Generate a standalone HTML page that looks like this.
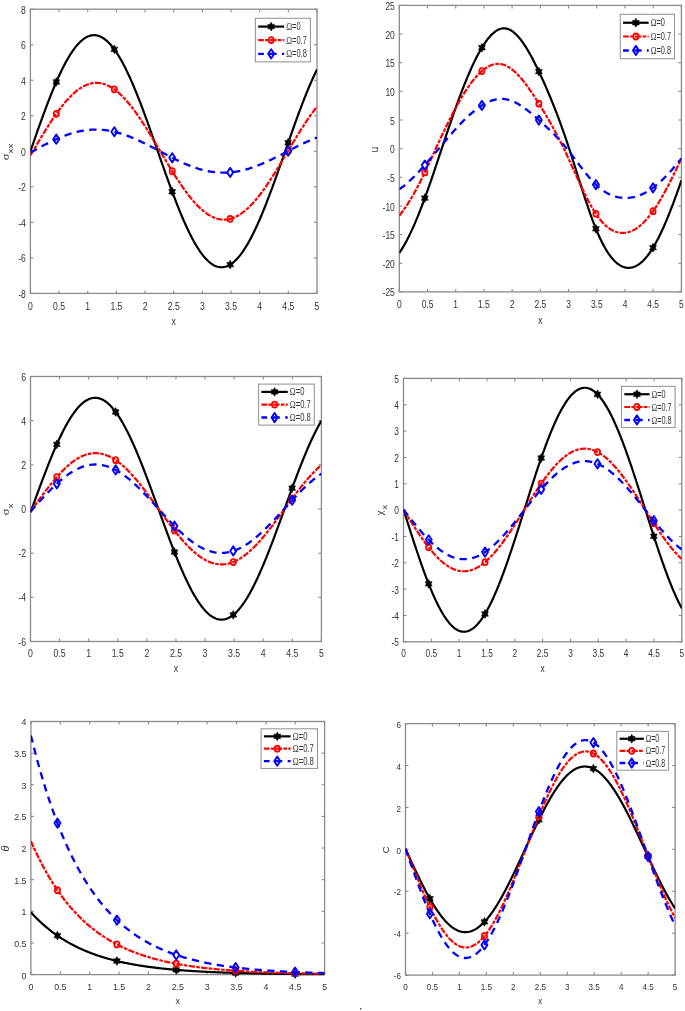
<!DOCTYPE html><html><head><meta charset="utf-8"><style>html,body{margin:0;padding:0;background:#fff;}svg{display:block;}text{font-family:"Liberation Sans",sans-serif;}.t{filter:grayscale(1);}</style></head><body>
<div id="w"><svg width="685" height="1011" viewBox="0 0 685 1011">
<rect width="685" height="1011" fill="#fff"/>
<clipPath id="cp1"><rect x="30.40" y="6.20" width="286.60" height="290.20"/></clipPath>
<g stroke="#8a8a8a" stroke-width="1.1"><rect x="30.40" y="9.20" width="286.60" height="284.20" fill="none" stroke="#8a8a8a" stroke-width="1.3"/><line x1="30.40" y1="293.40" x2="30.40" y2="290.40"/><line x1="30.40" y1="9.20" x2="30.40" y2="12.20"/><line x1="59.06" y1="293.40" x2="59.06" y2="290.40"/><line x1="59.06" y1="9.20" x2="59.06" y2="12.20"/><line x1="87.72" y1="293.40" x2="87.72" y2="290.40"/><line x1="87.72" y1="9.20" x2="87.72" y2="12.20"/><line x1="116.38" y1="293.40" x2="116.38" y2="290.40"/><line x1="116.38" y1="9.20" x2="116.38" y2="12.20"/><line x1="145.04" y1="293.40" x2="145.04" y2="290.40"/><line x1="145.04" y1="9.20" x2="145.04" y2="12.20"/><line x1="173.70" y1="293.40" x2="173.70" y2="290.40"/><line x1="173.70" y1="9.20" x2="173.70" y2="12.20"/><line x1="202.36" y1="293.40" x2="202.36" y2="290.40"/><line x1="202.36" y1="9.20" x2="202.36" y2="12.20"/><line x1="231.02" y1="293.40" x2="231.02" y2="290.40"/><line x1="231.02" y1="9.20" x2="231.02" y2="12.20"/><line x1="259.68" y1="293.40" x2="259.68" y2="290.40"/><line x1="259.68" y1="9.20" x2="259.68" y2="12.20"/><line x1="288.34" y1="293.40" x2="288.34" y2="290.40"/><line x1="288.34" y1="9.20" x2="288.34" y2="12.20"/><line x1="317.00" y1="293.40" x2="317.00" y2="290.40"/><line x1="317.00" y1="9.20" x2="317.00" y2="12.20"/><line x1="30.40" y1="293.40" x2="33.40" y2="293.40"/><line x1="317.00" y1="293.40" x2="314.00" y2="293.40"/><line x1="30.40" y1="257.88" x2="33.40" y2="257.88"/><line x1="317.00" y1="257.88" x2="314.00" y2="257.88"/><line x1="30.40" y1="222.35" x2="33.40" y2="222.35"/><line x1="317.00" y1="222.35" x2="314.00" y2="222.35"/><line x1="30.40" y1="186.82" x2="33.40" y2="186.82"/><line x1="317.00" y1="186.82" x2="314.00" y2="186.82"/><line x1="30.40" y1="151.30" x2="33.40" y2="151.30"/><line x1="317.00" y1="151.30" x2="314.00" y2="151.30"/><line x1="30.40" y1="115.77" x2="33.40" y2="115.77"/><line x1="317.00" y1="115.77" x2="314.00" y2="115.77"/><line x1="30.40" y1="80.25" x2="33.40" y2="80.25"/><line x1="317.00" y1="80.25" x2="314.00" y2="80.25"/><line x1="30.40" y1="44.72" x2="33.40" y2="44.72"/><line x1="317.00" y1="44.72" x2="314.00" y2="44.72"/><line x1="30.40" y1="9.20" x2="33.40" y2="9.20"/><line x1="317.00" y1="9.20" x2="314.00" y2="9.20"/></g>
<g class="t" font-size="10.5" fill="#333333"><text transform="translate(30.40 309.86) scale(0.820 1.000)" text-anchor="middle">0</text><text transform="translate(59.06 309.86) scale(0.820 1.000)" text-anchor="middle">0.5</text><text transform="translate(87.72 309.86) scale(0.820 1.000)" text-anchor="middle">1</text><text transform="translate(116.38 309.86) scale(0.820 1.000)" text-anchor="middle">1.5</text><text transform="translate(145.04 309.86) scale(0.820 1.000)" text-anchor="middle">2</text><text transform="translate(173.70 309.86) scale(0.820 1.000)" text-anchor="middle">2.5</text><text transform="translate(202.36 309.86) scale(0.820 1.000)" text-anchor="middle">3</text><text transform="translate(231.02 309.86) scale(0.820 1.000)" text-anchor="middle">3.5</text><text transform="translate(259.68 309.86) scale(0.820 1.000)" text-anchor="middle">4</text><text transform="translate(288.34 309.86) scale(0.820 1.000)" text-anchor="middle">4.5</text><text transform="translate(317.00 309.86) scale(0.820 1.000)" text-anchor="middle">5</text><text transform="translate(25.90 297.96) scale(0.820 1.000)" text-anchor="end">-8</text><text transform="translate(25.90 262.44) scale(0.820 1.000)" text-anchor="end">-6</text><text transform="translate(25.90 226.91) scale(0.820 1.000)" text-anchor="end">-4</text><text transform="translate(25.90 191.38) scale(0.820 1.000)" text-anchor="end">-2</text><text transform="translate(25.90 155.86) scale(0.820 1.000)" text-anchor="end">0</text><text transform="translate(25.90 120.33) scale(0.820 1.000)" text-anchor="end">2</text><text transform="translate(25.90 84.81) scale(0.820 1.000)" text-anchor="end">4</text><text transform="translate(25.90 49.28) scale(0.820 1.000)" text-anchor="end">6</text><text transform="translate(25.90 13.76) scale(0.820 1.000)" text-anchor="end">8</text><text transform="translate(173.70 325.20) scale(0.820 1.000)" text-anchor="middle">x</text></g>
<path d="M30.40,151.25 L31.36,148.51 L32.31,145.78 L33.27,143.04 L34.22,140.31 L35.18,137.59 L36.13,134.88 L37.09,132.17 L38.04,129.48 L39.00,126.80 L39.95,124.13 L40.91,121.47 L41.86,118.84 L42.82,116.22 L43.77,113.62 L44.73,111.04 L45.69,108.48 L46.64,105.95 L47.60,103.44 L48.55,100.96 L49.51,98.51 L50.46,96.09 L51.42,93.69 L52.37,91.33 L53.33,89.01 L54.28,86.71 L55.24,84.46 L56.19,82.24 L57.15,80.06 L58.10,77.91 L59.06,75.81 L60.02,73.75 L60.97,71.74 L61.93,69.77 L62.88,67.84 L63.84,65.96 L64.79,64.13 L65.75,62.34 L66.70,60.61 L67.66,58.93 L68.61,57.29 L69.57,55.71 L70.52,54.18 L71.48,52.71 L72.43,51.29 L73.39,49.93 L74.35,48.62 L75.30,47.37 L76.26,46.18 L77.21,45.04 L78.17,43.97 L79.12,42.95 L80.08,42.00 L81.03,41.10 L81.99,40.27 L82.94,39.50 L83.90,38.79 L84.85,38.14 L85.81,37.55 L86.76,37.03 L87.72,36.58 L88.68,36.18 L89.63,35.85 L90.59,35.58 L91.54,35.38 L92.50,35.24 L93.45,35.17 L94.41,35.16 L95.36,35.22 L96.32,35.34 L97.27,35.52 L98.23,35.77 L99.18,36.08 L100.14,36.46 L101.09,36.90 L102.05,37.40 L103.01,37.97 L103.96,38.60 L104.92,39.29 L105.87,40.04 L106.83,40.86 L107.78,41.74 L108.74,42.68 L109.69,43.67 L110.65,44.73 L111.60,45.85 L112.56,47.03 L113.51,48.26 L114.47,49.55 L115.42,50.90 L116.38,52.30 L117.34,53.76 L118.29,55.27 L119.25,56.83 L120.20,58.45 L121.16,60.12 L122.11,61.84 L123.07,63.61 L124.02,65.43 L124.98,67.29 L125.93,69.20 L126.89,71.16 L127.84,73.16 L128.80,75.21 L129.75,77.30 L130.71,79.42 L131.67,81.59 L132.62,83.80 L133.58,86.04 L134.53,88.32 L135.49,90.64 L136.44,92.99 L137.40,95.37 L138.35,97.78 L139.31,100.22 L140.26,102.69 L141.22,105.19 L142.17,107.71 L143.13,110.26 L144.08,112.83 L145.04,115.42 L146.00,118.03 L146.95,120.66 L147.91,123.30 L148.86,125.97 L149.82,128.64 L150.77,131.33 L151.73,134.03 L152.68,136.74 L153.64,139.45 L154.59,142.18 L155.55,144.90 L156.50,147.63 L157.46,150.37 L158.41,153.10 L159.37,155.83 L160.33,158.56 L161.28,161.29 L162.24,164.01 L163.19,166.72 L164.15,169.43 L165.10,172.12 L166.06,174.81 L167.01,177.48 L167.97,180.13 L168.92,182.77 L169.88,185.39 L170.83,188.00 L171.79,190.58 L172.74,193.14 L173.70,195.68 L174.66,198.19 L175.61,200.67 L176.57,203.13 L177.52,205.56 L178.48,207.96 L179.43,210.33 L180.39,212.67 L181.34,214.97 L182.30,217.23 L183.25,219.46 L184.21,221.66 L185.16,223.81 L186.12,225.92 L187.07,227.99 L188.03,230.02 L188.99,232.00 L189.94,233.94 L190.90,235.84 L191.85,237.68 L192.81,239.48 L193.76,241.23 L194.72,242.93 L195.67,244.58 L196.63,246.18 L197.58,247.72 L198.54,249.21 L199.49,250.65 L200.45,252.03 L201.40,253.35 L202.36,254.62 L203.32,255.83 L204.27,256.99 L205.23,258.08 L206.18,259.12 L207.14,260.09 L208.09,261.01 L209.05,261.86 L210.00,262.66 L210.96,263.39 L211.91,264.05 L212.87,264.66 L213.82,265.20 L214.78,265.68 L215.73,266.10 L216.69,266.45 L217.65,266.74 L218.60,266.97 L219.56,267.13 L220.51,267.22 L221.47,267.26 L222.42,267.22 L223.38,267.13 L224.33,266.97 L225.29,266.74 L226.24,266.45 L227.20,266.10 L228.15,265.68 L229.11,265.20 L230.06,264.66 L231.02,264.05 L231.98,263.38 L232.93,262.65 L233.89,261.86 L234.84,261.00 L235.80,260.09 L236.75,259.11 L237.71,258.08 L238.66,256.98 L239.62,255.83 L240.57,254.62 L241.53,253.35 L242.48,252.02 L243.44,250.64 L244.39,249.21 L245.35,247.72 L246.31,246.17 L247.26,244.58 L248.22,242.93 L249.17,241.23 L250.13,239.48 L251.08,237.68 L252.04,235.84 L252.99,233.94 L253.95,232.01 L254.90,230.02 L255.86,228.00 L256.81,225.93 L257.77,223.82 L258.72,221.67 L259.68,219.48 L260.64,217.25 L261.59,214.98 L262.55,212.68 L263.50,210.35 L264.46,207.98 L265.41,205.59 L266.37,203.16 L267.32,200.70 L268.28,198.22 L269.23,195.71 L270.19,193.18 L271.14,190.62 L272.10,188.04 L273.05,185.44 L274.01,182.82 L274.97,180.18 L275.92,177.53 L276.88,174.87 L277.83,172.19 L278.79,169.50 L279.74,166.79 L280.70,164.09 L281.65,161.37 L282.61,158.65 L283.56,155.92 L284.52,153.19 L285.47,150.46 L286.43,147.73 L287.38,145.01 L288.34,142.28 L289.30,139.56 L290.25,136.85 L291.21,134.15 L292.16,131.45 L293.12,128.77 L294.07,126.10 L295.03,123.44 L295.98,120.80 L296.94,118.18 L297.89,115.57 L298.85,112.99 L299.80,110.42 L300.76,107.88 L301.71,105.36 L302.67,102.87 L303.63,100.41 L304.58,97.97 L305.54,95.56 L306.49,93.19 L307.45,90.84 L308.40,88.53 L309.36,86.26 L310.31,84.02 L311.27,81.82 L312.22,79.65 L313.18,77.53 L314.13,75.45 L315.09,73.41 L316.04,71.41 L317.00,69.46" fill="none" stroke="#000" stroke-width="2.2" stroke-linejoin="round" clip-path="url(#cp1)"/>
<polygon points="56.31,77.57 55.17,79.77 52.88,79.77 54.02,81.97 52.88,84.17 55.17,84.17 56.31,86.37 57.45,84.17 59.74,84.17 58.59,81.97 59.74,79.77 57.45,79.77" fill="#000" stroke="#000" stroke-width="0.6" stroke-linejoin="round"/>
<polygon points="114.32,44.94 113.17,47.14 110.89,47.14 112.03,49.34 110.89,51.54 113.17,51.54 114.32,53.74 115.46,51.54 117.75,51.54 116.60,49.34 117.75,47.14 115.46,47.14" fill="#000" stroke="#000" stroke-width="0.6" stroke-linejoin="round"/>
<polygon points="172.21,187.31 171.07,189.51 168.78,189.51 169.92,191.71 168.78,193.91 171.07,193.91 172.21,196.11 173.35,193.91 175.64,193.91 174.49,191.71 175.64,189.51 173.35,189.51" fill="#000" stroke="#000" stroke-width="0.6" stroke-linejoin="round"/>
<polygon points="230.16,260.20 229.02,262.40 226.73,262.40 227.88,264.60 226.73,266.80 229.02,266.80 230.16,269.00 231.30,266.80 233.59,266.80 232.45,264.60 233.59,262.40 231.30,262.40" fill="#000" stroke="#000" stroke-width="0.6" stroke-linejoin="round"/>
<polygon points="288.17,138.37 287.03,140.57 284.74,140.57 285.88,142.77 284.74,144.97 287.03,144.97 288.17,147.17 289.31,144.97 291.60,144.97 290.45,142.77 291.60,140.57 289.31,140.57" fill="#000" stroke="#000" stroke-width="0.6" stroke-linejoin="round"/>
<path d="M30.40,155.41 L31.36,153.79 L32.31,152.18 L33.27,150.56 L34.22,148.95 L35.18,147.33 L36.13,145.72 L37.09,144.11 L38.04,142.51 L39.00,140.91 L39.95,139.32 L40.91,137.73 L41.86,136.15 L42.82,134.58 L43.77,133.02 L44.73,131.47 L45.69,129.93 L46.64,128.40 L47.60,126.89 L48.55,125.39 L49.51,123.90 L50.46,122.43 L51.42,120.97 L52.37,119.53 L53.33,118.11 L54.28,116.71 L55.24,115.33 L56.19,113.97 L57.15,112.62 L58.10,111.30 L59.06,110.01 L60.02,108.73 L60.97,107.48 L61.93,106.25 L62.88,105.05 L63.84,103.87 L64.79,102.72 L65.75,101.60 L66.70,100.50 L67.66,99.44 L68.61,98.40 L69.57,97.39 L70.52,96.41 L71.48,95.46 L72.43,94.55 L73.39,93.66 L74.35,92.81 L75.30,91.99 L76.26,91.20 L77.21,90.44 L78.17,89.72 L79.12,89.03 L80.08,88.38 L81.03,87.76 L81.99,87.18 L82.94,86.64 L83.90,86.12 L84.85,85.65 L85.81,85.21 L86.76,84.81 L87.72,84.45 L88.68,84.12 L89.63,83.83 L90.59,83.58 L91.54,83.36 L92.50,83.18 L93.45,83.04 L94.41,82.94 L95.36,82.88 L96.32,82.85 L97.27,82.86 L98.23,82.91 L99.18,83.00 L100.14,83.13 L101.09,83.29 L102.05,83.49 L103.01,83.73 L103.96,84.01 L104.92,84.32 L105.87,84.67 L106.83,85.06 L107.78,85.48 L108.74,85.94 L109.69,86.44 L110.65,86.97 L111.60,87.54 L112.56,88.15 L113.51,88.78 L114.47,89.46 L115.42,90.17 L116.38,90.91 L117.34,91.68 L118.29,92.49 L119.25,93.33 L120.20,94.20 L121.16,95.11 L122.11,96.04 L123.07,97.01 L124.02,98.01 L124.98,99.03 L125.93,100.09 L126.89,101.17 L127.84,102.28 L128.80,103.42 L129.75,104.58 L130.71,105.77 L131.67,106.99 L132.62,108.23 L133.58,109.49 L134.53,110.78 L135.49,112.09 L136.44,113.42 L137.40,114.77 L138.35,116.14 L139.31,117.53 L140.26,118.94 L141.22,120.37 L142.17,121.82 L143.13,123.28 L144.08,124.76 L145.04,126.25 L146.00,127.75 L146.95,129.27 L147.91,130.80 L148.86,132.34 L149.82,133.90 L150.77,135.46 L151.73,137.03 L152.68,138.61 L153.64,140.19 L154.59,141.78 L155.55,143.38 L156.50,144.98 L157.46,146.59 L158.41,148.19 L159.37,149.80 L160.33,151.41 L161.28,153.02 L162.24,154.63 L163.19,156.24 L164.15,157.84 L165.10,159.44 L166.06,161.04 L167.01,162.63 L167.97,164.21 L168.92,165.79 L169.88,167.36 L170.83,168.92 L171.79,170.47 L172.74,172.01 L173.70,173.53 L174.66,175.05 L175.61,176.55 L176.57,178.04 L177.52,179.51 L178.48,180.97 L179.43,182.41 L180.39,183.84 L181.34,185.24 L182.30,186.63 L183.25,188.00 L184.21,189.34 L185.16,190.67 L186.12,191.97 L187.07,193.25 L188.03,194.51 L188.99,195.75 L189.94,196.96 L190.90,198.14 L191.85,199.30 L192.81,200.43 L193.76,201.54 L194.72,202.61 L195.67,203.66 L196.63,204.68 L197.58,205.67 L198.54,206.63 L199.49,207.56 L200.45,208.46 L201.40,209.32 L202.36,210.16 L203.32,210.96 L204.27,211.73 L205.23,212.46 L206.18,213.16 L207.14,213.83 L208.09,214.46 L209.05,215.06 L210.00,215.62 L210.96,216.15 L211.91,216.64 L212.87,217.09 L213.82,217.51 L214.78,217.89 L215.73,218.23 L216.69,218.54 L217.65,218.81 L218.60,219.04 L219.56,219.24 L220.51,219.40 L221.47,219.52 L222.42,219.60 L223.38,219.64 L224.33,219.65 L225.29,219.62 L226.24,219.55 L227.20,219.44 L228.15,219.30 L229.11,219.12 L230.06,218.90 L231.02,218.64 L231.98,218.35 L232.93,218.01 L233.89,217.65 L234.84,217.24 L235.80,216.80 L236.75,216.32 L237.71,215.81 L238.66,215.26 L239.62,214.68 L240.57,214.06 L241.53,213.40 L242.48,212.71 L243.44,211.99 L244.39,211.24 L245.35,210.45 L246.31,209.62 L247.26,208.77 L248.22,207.89 L249.17,206.97 L250.13,206.02 L251.08,205.04 L252.04,204.04 L252.99,203.00 L253.95,201.93 L254.90,200.84 L255.86,199.72 L256.81,198.57 L257.77,197.40 L258.72,196.20 L259.68,194.98 L260.64,193.73 L261.59,192.46 L262.55,191.17 L263.50,189.85 L264.46,188.52 L265.41,187.16 L266.37,185.78 L267.32,184.39 L268.28,182.97 L269.23,181.54 L270.19,180.09 L271.14,178.63 L272.10,177.15 L273.05,175.66 L274.01,174.15 L274.97,172.63 L275.92,171.10 L276.88,169.56 L277.83,168.01 L278.79,166.45 L279.74,164.88 L280.70,163.30 L281.65,161.72 L282.61,160.13 L283.56,158.54 L284.52,156.94 L285.47,155.34 L286.43,153.74 L287.38,152.14 L288.34,150.53 L289.30,148.93 L290.25,147.33 L291.21,145.73 L292.16,144.13 L293.12,142.54 L294.07,140.95 L295.03,139.37 L295.98,137.80 L296.94,136.23 L297.89,134.67 L298.85,133.12 L299.80,131.59 L300.76,130.06 L301.71,128.54 L302.67,127.04 L303.63,125.55 L304.58,124.08 L305.54,122.62 L306.49,121.17 L307.45,119.74 L308.40,118.34 L309.36,116.94 L310.31,115.57 L311.27,114.22 L312.22,112.89 L313.18,111.58 L314.13,110.29 L315.09,109.03 L316.04,107.79 L317.00,106.57" fill="none" stroke="#f00" stroke-width="2.2" stroke-dasharray="6.3 1.3 3.6 1.3" stroke-linejoin="round" clip-path="url(#cp1)"/>
<ellipse cx="56.31" cy="113.80" rx="2.60" ry="3.00" fill="none" stroke="#f00" stroke-width="1.8"/>
<ellipse cx="114.32" cy="89.35" rx="2.60" ry="3.00" fill="none" stroke="#f00" stroke-width="1.8"/>
<ellipse cx="172.21" cy="171.15" rx="2.60" ry="3.00" fill="none" stroke="#f00" stroke-width="1.8"/>
<ellipse cx="230.16" cy="218.87" rx="2.60" ry="3.00" fill="none" stroke="#f00" stroke-width="1.8"/>
<ellipse cx="288.17" cy="150.82" rx="2.60" ry="3.00" fill="none" stroke="#f00" stroke-width="1.8"/>
<path d="M30.40,152.54 L31.36,152.02 L32.31,151.50 L33.27,150.98 L34.22,150.46 L35.18,149.94 L36.13,149.42 L37.09,148.90 L38.04,148.39 L39.00,147.87 L39.95,147.36 L40.91,146.85 L41.86,146.34 L42.82,145.84 L43.77,145.34 L44.73,144.84 L45.69,144.35 L46.64,143.86 L47.60,143.37 L48.55,142.89 L49.51,142.42 L50.46,141.95 L51.42,141.49 L52.37,141.03 L53.33,140.57 L54.28,140.13 L55.24,139.69 L56.19,139.25 L57.15,138.83 L58.10,138.41 L59.06,137.99 L60.02,137.59 L60.97,137.19 L61.93,136.80 L62.88,136.42 L63.84,136.05 L64.79,135.69 L65.75,135.33 L66.70,134.99 L67.66,134.65 L68.61,134.32 L69.57,134.01 L70.52,133.70 L71.48,133.40 L72.43,133.11 L73.39,132.84 L74.35,132.57 L75.30,132.31 L76.26,132.07 L77.21,131.83 L78.17,131.61 L79.12,131.39 L80.08,131.19 L81.03,131.00 L81.99,130.82 L82.94,130.66 L83.90,130.50 L84.85,130.35 L85.81,130.22 L86.76,130.10 L87.72,129.99 L88.68,129.89 L89.63,129.81 L90.59,129.74 L91.54,129.67 L92.50,129.63 L93.45,129.59 L94.41,129.56 L95.36,129.55 L96.32,129.55 L97.27,129.56 L98.23,129.58 L99.18,129.62 L100.14,129.67 L101.09,129.73 L102.05,129.80 L103.01,129.88 L103.96,129.98 L104.92,130.08 L105.87,130.20 L106.83,130.33 L107.78,130.48 L108.74,130.63 L109.69,130.79 L110.65,130.97 L111.60,131.16 L112.56,131.36 L113.51,131.57 L114.47,131.79 L115.42,132.02 L116.38,132.26 L117.34,132.52 L118.29,132.78 L119.25,133.05 L120.20,133.34 L121.16,133.63 L122.11,133.93 L123.07,134.24 L124.02,134.57 L124.98,134.90 L125.93,135.24 L126.89,135.59 L127.84,135.94 L128.80,136.31 L129.75,136.69 L130.71,137.07 L131.67,137.46 L132.62,137.86 L133.58,138.26 L134.53,138.67 L135.49,139.09 L136.44,139.52 L137.40,139.95 L138.35,140.39 L139.31,140.83 L140.26,141.28 L141.22,141.74 L142.17,142.20 L143.13,142.66 L144.08,143.13 L145.04,143.61 L146.00,144.09 L146.95,144.57 L147.91,145.05 L148.86,145.54 L149.82,146.04 L150.77,146.53 L151.73,147.03 L152.68,147.53 L153.64,148.03 L154.59,148.53 L155.55,149.04 L156.50,149.54 L157.46,150.05 L158.41,150.56 L159.37,151.07 L160.33,151.57 L161.28,152.08 L162.24,152.59 L163.19,153.09 L164.15,153.60 L165.10,154.10 L166.06,154.60 L167.01,155.10 L167.97,155.60 L168.92,156.10 L169.88,156.59 L170.83,157.08 L171.79,157.56 L172.74,158.04 L173.70,158.52 L174.66,159.00 L175.61,159.47 L176.57,159.93 L177.52,160.39 L178.48,160.85 L179.43,161.30 L180.39,161.74 L181.34,162.18 L182.30,162.61 L183.25,163.04 L184.21,163.45 L185.16,163.87 L186.12,164.27 L187.07,164.67 L188.03,165.06 L188.99,165.44 L189.94,165.82 L190.90,166.18 L191.85,166.54 L192.81,166.89 L193.76,167.23 L194.72,167.56 L195.67,167.89 L196.63,168.20 L197.58,168.50 L198.54,168.80 L199.49,169.08 L200.45,169.36 L201.40,169.62 L202.36,169.88 L203.32,170.12 L204.27,170.35 L205.23,170.58 L206.18,170.79 L207.14,170.99 L208.09,171.18 L209.05,171.36 L210.00,171.53 L210.96,171.69 L211.91,171.83 L212.87,171.97 L213.82,172.09 L214.78,172.20 L215.73,172.30 L216.69,172.39 L217.65,172.47 L218.60,172.54 L219.56,172.59 L220.51,172.63 L221.47,172.66 L222.42,172.68 L223.38,172.68 L224.33,172.68 L225.29,172.66 L226.24,172.63 L227.20,172.59 L228.15,172.54 L229.11,172.48 L230.06,172.40 L231.02,172.31 L231.98,172.21 L232.93,172.10 L233.89,171.98 L234.84,171.85 L235.80,171.70 L236.75,171.55 L237.71,171.38 L238.66,171.20 L239.62,171.01 L240.57,170.82 L241.53,170.61 L242.48,170.38 L243.44,170.15 L244.39,169.91 L245.35,169.66 L246.31,169.40 L247.26,169.13 L248.22,168.85 L249.17,168.56 L250.13,168.26 L251.08,167.95 L252.04,167.63 L252.99,167.30 L253.95,166.96 L254.90,166.62 L255.86,166.27 L256.81,165.91 L257.77,165.54 L258.72,165.16 L259.68,164.78 L260.64,164.39 L261.59,163.99 L262.55,163.58 L263.50,163.17 L264.46,162.75 L265.41,162.33 L266.37,161.90 L267.32,161.46 L268.28,161.02 L269.23,160.58 L270.19,160.13 L271.14,159.67 L272.10,159.21 L273.05,158.75 L274.01,158.28 L274.97,157.81 L275.92,157.33 L276.88,156.85 L277.83,156.37 L278.79,155.89 L279.74,155.40 L280.70,154.92 L281.65,154.43 L282.61,153.93 L283.56,153.44 L284.52,152.95 L285.47,152.46 L286.43,151.96 L287.38,151.47 L288.34,150.97 L289.30,150.48 L290.25,149.98 L291.21,149.49 L292.16,149.00 L293.12,148.51 L294.07,148.02 L295.03,147.54 L295.98,147.06 L296.94,146.58 L297.89,146.10 L298.85,145.62 L299.80,145.15 L300.76,144.68 L301.71,144.22 L302.67,143.76 L303.63,143.31 L304.58,142.86 L305.54,142.41 L306.49,141.97 L307.45,141.53 L308.40,141.11 L309.36,140.68 L310.31,140.26 L311.27,139.85 L312.22,139.45 L313.18,139.05 L314.13,138.66 L315.09,138.28 L316.04,137.90 L317.00,137.53" fill="none" stroke="#00f" stroke-width="2.3" stroke-dasharray="7.3 5.4" stroke-linejoin="round" clip-path="url(#cp1)"/>
<polygon points="56.31,134.60 59.31,139.20 56.31,143.80 53.31,139.20" fill="none" stroke="#00f" stroke-width="1.9" stroke-linejoin="round"/>
<polygon points="114.32,127.15 117.32,131.75 114.32,136.35 111.32,131.75" fill="none" stroke="#00f" stroke-width="1.9" stroke-linejoin="round"/>
<polygon points="172.21,153.17 175.21,157.77 172.21,162.37 169.21,157.77" fill="none" stroke="#00f" stroke-width="1.9" stroke-linejoin="round"/>
<polygon points="230.16,167.79 233.16,172.39 230.16,176.99 227.16,172.39" fill="none" stroke="#00f" stroke-width="1.9" stroke-linejoin="round"/>
<polygon points="288.17,146.46 291.17,151.06 288.17,155.66 285.17,151.06" fill="none" stroke="#00f" stroke-width="1.9" stroke-linejoin="round"/>
<rect x="255.40" y="18.30" width="55.00" height="43.60" fill="#fff" stroke="#999" stroke-width="1.1"/>
<line x1="258.20" y1="26.58" x2="284.17" y2="26.58" stroke="#000" stroke-width="2.2"/>
<polygon points="271.18,22.18 270.04,24.39 267.75,24.38 268.90,26.58 267.75,28.78 270.04,28.78 271.18,30.98 272.32,28.78 274.61,28.78 273.47,26.58 274.61,24.38 272.32,24.39" fill="#000" stroke="#000" stroke-width="0.6" stroke-linejoin="round"/>
<text class="t" transform="translate(286.20 30.18) scale(0.750 1)" font-size="10" fill="#333333"><tspan font-family="Liberation Serif" font-size="10.5">&#937;</tspan>=0</text>
<line x1="258.20" y1="40.10" x2="284.17" y2="40.10" stroke="#f00" stroke-width="2.2" stroke-dasharray="6.3 1.3 3.6 1.3" stroke-dashoffset="0.6"/>
<ellipse cx="271.18" cy="40.10" rx="2.60" ry="3.00" fill="none" stroke="#f00" stroke-width="1.8"/>
<text class="t" transform="translate(286.20 43.70) scale(0.750 1)" font-size="10" fill="#333333"><tspan font-family="Liberation Serif" font-size="10.5">&#937;</tspan>=0.7</text>
<line x1="258.20" y1="53.83" x2="284.17" y2="53.83" stroke="#00f" stroke-width="2.3" stroke-dasharray="7.3 5.4" stroke-dashoffset="1.6"/>
<polygon points="271.18,49.23 274.18,53.83 271.18,58.43 268.18,53.83" fill="none" stroke="#00f" stroke-width="1.9" stroke-linejoin="round"/>
<text class="t" transform="translate(286.20 57.43) scale(0.750 1)" font-size="10" fill="#333333"><tspan font-family="Liberation Serif" font-size="10.5">&#937;</tspan>=0.8</text>
<g transform="translate(9.0 151.8) rotate(-90) scale(1.12 0.9)" class="t" fill="#333333"><text text-anchor="middle" font-size="10.5"><tspan font-family="Liberation Serif" font-size="11">&#963;</tspan><tspan font-size="9" dy="4.6">xx</tspan></text></g>
<clipPath id="cp2"><rect x="399.30" y="2.40" width="282.10" height="292.50"/></clipPath>
<g stroke="#8a8a8a" stroke-width="1.1"><rect x="399.30" y="5.40" width="282.10" height="286.50" fill="none" stroke="#8a8a8a" stroke-width="1.3"/><line x1="399.30" y1="291.90" x2="399.30" y2="288.90"/><line x1="399.30" y1="5.40" x2="399.30" y2="8.40"/><line x1="427.51" y1="291.90" x2="427.51" y2="288.90"/><line x1="427.51" y1="5.40" x2="427.51" y2="8.40"/><line x1="455.72" y1="291.90" x2="455.72" y2="288.90"/><line x1="455.72" y1="5.40" x2="455.72" y2="8.40"/><line x1="483.93" y1="291.90" x2="483.93" y2="288.90"/><line x1="483.93" y1="5.40" x2="483.93" y2="8.40"/><line x1="512.14" y1="291.90" x2="512.14" y2="288.90"/><line x1="512.14" y1="5.40" x2="512.14" y2="8.40"/><line x1="540.35" y1="291.90" x2="540.35" y2="288.90"/><line x1="540.35" y1="5.40" x2="540.35" y2="8.40"/><line x1="568.56" y1="291.90" x2="568.56" y2="288.90"/><line x1="568.56" y1="5.40" x2="568.56" y2="8.40"/><line x1="596.77" y1="291.90" x2="596.77" y2="288.90"/><line x1="596.77" y1="5.40" x2="596.77" y2="8.40"/><line x1="624.98" y1="291.90" x2="624.98" y2="288.90"/><line x1="624.98" y1="5.40" x2="624.98" y2="8.40"/><line x1="653.19" y1="291.90" x2="653.19" y2="288.90"/><line x1="653.19" y1="5.40" x2="653.19" y2="8.40"/><line x1="681.40" y1="291.90" x2="681.40" y2="288.90"/><line x1="681.40" y1="5.40" x2="681.40" y2="8.40"/><line x1="399.30" y1="291.90" x2="402.30" y2="291.90"/><line x1="681.40" y1="291.90" x2="678.40" y2="291.90"/><line x1="399.30" y1="263.25" x2="402.30" y2="263.25"/><line x1="681.40" y1="263.25" x2="678.40" y2="263.25"/><line x1="399.30" y1="234.60" x2="402.30" y2="234.60"/><line x1="681.40" y1="234.60" x2="678.40" y2="234.60"/><line x1="399.30" y1="205.95" x2="402.30" y2="205.95"/><line x1="681.40" y1="205.95" x2="678.40" y2="205.95"/><line x1="399.30" y1="177.30" x2="402.30" y2="177.30"/><line x1="681.40" y1="177.30" x2="678.40" y2="177.30"/><line x1="399.30" y1="148.65" x2="402.30" y2="148.65"/><line x1="681.40" y1="148.65" x2="678.40" y2="148.65"/><line x1="399.30" y1="120.00" x2="402.30" y2="120.00"/><line x1="681.40" y1="120.00" x2="678.40" y2="120.00"/><line x1="399.30" y1="91.35" x2="402.30" y2="91.35"/><line x1="681.40" y1="91.35" x2="678.40" y2="91.35"/><line x1="399.30" y1="62.70" x2="402.30" y2="62.70"/><line x1="681.40" y1="62.70" x2="678.40" y2="62.70"/><line x1="399.30" y1="34.05" x2="402.30" y2="34.05"/><line x1="681.40" y1="34.05" x2="678.40" y2="34.05"/><line x1="399.30" y1="5.40" x2="402.30" y2="5.40"/><line x1="681.40" y1="5.40" x2="678.40" y2="5.40"/></g>
<g class="t" font-size="10.5" fill="#333333"><text transform="translate(399.30 308.28) scale(0.807 1.005)" text-anchor="middle">0</text><text transform="translate(427.51 308.28) scale(0.807 1.005)" text-anchor="middle">0.5</text><text transform="translate(455.72 308.28) scale(0.807 1.005)" text-anchor="middle">1</text><text transform="translate(483.93 308.28) scale(0.807 1.005)" text-anchor="middle">1.5</text><text transform="translate(512.14 308.28) scale(0.807 1.005)" text-anchor="middle">2</text><text transform="translate(540.35 308.28) scale(0.807 1.005)" text-anchor="middle">2.5</text><text transform="translate(568.56 308.28) scale(0.807 1.005)" text-anchor="middle">3</text><text transform="translate(596.77 308.28) scale(0.807 1.005)" text-anchor="middle">3.5</text><text transform="translate(624.98 308.28) scale(0.807 1.005)" text-anchor="middle">4</text><text transform="translate(653.19 308.28) scale(0.807 1.005)" text-anchor="middle">4.5</text><text transform="translate(681.40 308.28) scale(0.807 1.005)" text-anchor="middle">5</text><text transform="translate(394.80 296.48) scale(0.807 1.005)" text-anchor="end">-25</text><text transform="translate(394.80 267.83) scale(0.807 1.005)" text-anchor="end">-20</text><text transform="translate(394.80 239.18) scale(0.807 1.005)" text-anchor="end">-15</text><text transform="translate(394.80 210.53) scale(0.807 1.005)" text-anchor="end">-10</text><text transform="translate(394.80 181.88) scale(0.807 1.005)" text-anchor="end">-5</text><text transform="translate(394.80 153.23) scale(0.807 1.005)" text-anchor="end">0</text><text transform="translate(394.80 124.58) scale(0.807 1.005)" text-anchor="end">5</text><text transform="translate(394.80 95.93) scale(0.807 1.005)" text-anchor="end">10</text><text transform="translate(394.80 67.28) scale(0.807 1.005)" text-anchor="end">15</text><text transform="translate(394.80 38.63) scale(0.807 1.005)" text-anchor="end">20</text><text transform="translate(394.80 9.98) scale(0.807 1.005)" text-anchor="end">25</text><text transform="translate(540.35 324.31) scale(0.807 1.005)" text-anchor="middle">x</text></g>
<path d="M399.30,252.88 L400.24,251.52 L401.18,250.10 L402.12,248.62 L403.06,247.09 L404.00,245.50 L404.94,243.85 L405.88,242.15 L406.82,240.40 L407.76,238.60 L408.70,236.75 L409.64,234.84 L410.58,232.89 L411.52,230.89 L412.46,228.84 L413.41,226.74 L414.35,224.60 L415.29,222.42 L416.23,220.19 L417.17,217.93 L418.11,215.62 L419.05,213.27 L419.99,210.88 L420.93,208.46 L421.87,206.00 L422.81,203.51 L423.75,200.99 L424.69,198.43 L425.63,195.85 L426.57,193.23 L427.51,190.59 L428.45,187.92 L429.39,185.23 L430.33,182.52 L431.27,179.79 L432.21,177.04 L433.15,174.28 L434.09,171.50 L435.03,168.71 L435.97,165.91 L436.91,163.10 L437.85,160.28 L438.79,157.46 L439.73,154.64 L440.67,151.81 L441.62,148.99 L442.56,146.17 L443.50,143.35 L444.44,140.54 L445.38,137.73 L446.32,134.94 L447.26,132.15 L448.20,129.37 L449.14,126.61 L450.08,123.86 L451.02,121.12 L451.96,118.40 L452.90,115.70 L453.84,113.02 L454.78,110.36 L455.72,107.72 L456.66,105.10 L457.60,102.51 L458.54,99.95 L459.48,97.41 L460.42,94.89 L461.36,92.41 L462.30,89.96 L463.24,87.54 L464.18,85.15 L465.12,82.80 L466.06,80.48 L467.00,78.20 L467.94,75.95 L468.88,73.75 L469.82,71.58 L470.77,69.45 L471.71,67.37 L472.65,65.33 L473.59,63.33 L474.53,61.38 L475.47,59.47 L476.41,57.61 L477.35,55.79 L478.29,54.03 L479.23,52.31 L480.17,50.64 L481.11,49.02 L482.05,47.45 L482.99,45.94 L483.93,44.48 L484.87,43.07 L485.81,41.72 L486.75,40.42 L487.69,39.19 L488.63,38.01 L489.57,36.90 L490.51,35.85 L491.45,34.86 L492.39,33.94 L493.33,33.08 L494.27,32.29 L495.21,31.57 L496.15,30.92 L497.09,30.34 L498.03,29.83 L498.98,29.39 L499.92,29.03 L500.86,28.73 L501.80,28.52 L502.74,28.38 L503.68,28.31 L504.62,28.33 L505.56,28.42 L506.50,28.58 L507.44,28.83 L508.38,29.14 L509.32,29.53 L510.26,30.00 L511.20,30.53 L512.14,31.13 L513.08,31.81 L514.02,32.55 L514.96,33.35 L515.90,34.23 L516.84,35.16 L517.78,36.16 L518.72,37.22 L519.66,38.34 L520.60,39.52 L521.54,40.75 L522.48,42.04 L523.42,43.38 L524.36,44.77 L525.30,46.22 L526.25,47.71 L527.19,49.25 L528.13,50.84 L529.07,52.46 L530.01,54.13 L530.95,55.84 L531.89,57.59 L532.83,59.37 L533.77,61.19 L534.71,63.04 L535.65,64.92 L536.59,66.83 L537.53,68.76 L538.47,70.72 L539.41,72.70 L540.35,74.70 L541.29,76.72 L542.23,78.77 L543.17,80.83 L544.11,82.93 L545.05,85.04 L545.99,87.18 L546.93,89.35 L547.87,91.54 L548.81,93.75 L549.75,96.00 L550.69,98.26 L551.63,100.56 L552.57,102.88 L553.51,105.23 L554.45,107.61 L555.40,110.01 L556.34,112.45 L557.28,114.91 L558.22,117.40 L559.16,119.92 L560.10,122.47 L561.04,125.05 L561.98,127.66 L562.92,130.30 L563.86,132.97 L564.80,135.67 L565.74,138.40 L566.68,141.16 L567.62,143.95 L568.56,146.77 L569.50,149.62 L570.44,152.51 L571.38,155.42 L572.32,158.35 L573.26,161.30 L574.20,164.27 L575.14,167.25 L576.08,170.24 L577.02,173.23 L577.96,176.23 L578.90,179.22 L579.84,182.20 L580.78,185.18 L581.72,188.14 L582.66,191.09 L583.61,194.01 L584.55,196.91 L585.49,199.79 L586.43,202.63 L587.37,205.44 L588.31,208.21 L589.25,210.94 L590.19,213.62 L591.13,216.25 L592.07,218.84 L593.01,221.37 L593.95,223.84 L594.89,226.25 L595.83,228.59 L596.77,230.86 L597.71,233.07 L598.65,235.21 L599.59,237.28 L600.53,239.28 L601.47,241.22 L602.41,243.08 L603.35,244.88 L604.29,246.61 L605.23,248.26 L606.17,249.85 L607.11,251.37 L608.05,252.82 L608.99,254.20 L609.93,255.52 L610.88,256.76 L611.82,257.94 L612.76,259.05 L613.70,260.09 L614.64,261.06 L615.58,261.96 L616.52,262.80 L617.46,263.57 L618.40,264.28 L619.34,264.92 L620.28,265.49 L621.22,266.00 L622.16,266.45 L623.10,266.83 L624.04,267.15 L624.98,267.41 L625.92,267.61 L626.86,267.74 L627.80,267.82 L628.74,267.84 L629.68,267.80 L630.62,267.70 L631.56,267.54 L632.50,267.32 L633.44,267.05 L634.38,266.71 L635.32,266.31 L636.26,265.86 L637.20,265.34 L638.14,264.77 L639.09,264.13 L640.03,263.44 L640.97,262.68 L641.91,261.86 L642.85,260.99 L643.79,260.05 L644.73,259.05 L645.67,258.00 L646.61,256.88 L647.55,255.71 L648.49,254.47 L649.43,253.18 L650.37,251.83 L651.31,250.42 L652.25,248.95 L653.19,247.43 L654.13,245.85 L655.07,244.22 L656.01,242.53 L656.95,240.79 L657.89,238.99 L658.83,237.14 L659.77,235.25 L660.71,233.30 L661.65,231.31 L662.59,229.26 L663.53,227.18 L664.47,225.04 L665.41,222.87 L666.35,220.65 L667.30,218.39 L668.24,216.09 L669.18,213.75 L670.12,211.37 L671.06,208.96 L672.00,206.51 L672.94,204.03 L673.88,201.52 L674.82,198.98 L675.76,196.41 L676.70,193.81 L677.64,191.18 L678.58,188.53 L679.52,185.86 L680.46,183.17 L681.40,180.45" fill="none" stroke="#000" stroke-width="2.2" stroke-linejoin="round" clip-path="url(#cp2)"/>
<polygon points="424.80,193.72 423.66,195.92 421.37,195.92 422.52,198.12 421.37,200.32 423.66,200.32 424.80,202.52 425.94,200.32 428.23,200.32 427.09,198.12 428.23,195.92 425.94,195.92" fill="#000" stroke="#000" stroke-width="0.6" stroke-linejoin="round"/>
<polygon points="481.90,43.30 480.76,45.50 478.47,45.50 479.61,47.70 478.47,49.90 480.76,49.90 481.90,52.10 483.04,49.90 485.33,49.90 484.18,47.70 485.33,45.50 483.04,45.50" fill="#000" stroke="#000" stroke-width="0.6" stroke-linejoin="round"/>
<polygon points="538.88,67.19 537.74,69.39 535.45,69.39 536.60,71.59 535.45,73.79 537.74,73.78 538.88,75.99 540.03,73.78 542.31,73.79 541.17,71.59 542.31,69.39 540.03,69.39" fill="#000" stroke="#000" stroke-width="0.6" stroke-linejoin="round"/>
<polygon points="595.92,224.42 594.78,226.62 592.49,226.62 593.64,228.82 592.49,231.02 594.78,231.02 595.92,233.22 597.07,231.02 599.35,231.02 598.21,228.82 599.35,226.62 597.07,226.62" fill="#000" stroke="#000" stroke-width="0.6" stroke-linejoin="round"/>
<polygon points="653.02,243.31 651.88,245.51 649.59,245.51 650.74,247.71 649.59,249.91 651.88,249.91 653.02,252.11 654.16,249.91 656.45,249.91 655.31,247.71 656.45,245.51 654.16,245.51" fill="#000" stroke="#000" stroke-width="0.6" stroke-linejoin="round"/>
<path d="M399.30,215.63 L400.24,214.47 L401.18,213.27 L402.12,212.03 L403.06,210.76 L404.00,209.45 L404.94,208.10 L405.88,206.72 L406.82,205.30 L407.76,203.85 L408.70,202.37 L409.64,200.85 L410.58,199.31 L411.52,197.73 L412.46,196.12 L413.41,194.47 L414.35,192.80 L415.29,191.10 L416.23,189.38 L417.17,187.62 L418.11,185.84 L419.05,184.03 L419.99,182.19 L420.93,180.34 L421.87,178.45 L422.81,176.55 L423.75,174.62 L424.69,172.67 L425.63,170.70 L426.57,168.71 L427.51,166.71 L428.45,164.69 L429.39,162.66 L430.33,160.62 L431.27,158.57 L432.21,156.51 L433.15,154.45 L434.09,152.39 L435.03,150.34 L435.97,148.28 L436.91,146.23 L437.85,144.19 L438.79,142.15 L439.73,140.12 L440.67,138.10 L441.62,136.09 L442.56,134.09 L443.50,132.10 L444.44,130.12 L445.38,128.16 L446.32,126.22 L447.26,124.28 L448.20,122.37 L449.14,120.47 L450.08,118.59 L451.02,116.73 L451.96,114.88 L452.90,113.06 L453.84,111.26 L454.78,109.48 L455.72,107.73 L456.66,106.00 L457.60,104.29 L458.54,102.62 L459.48,100.96 L460.42,99.34 L461.36,97.74 L462.30,96.17 L463.24,94.63 L464.18,93.12 L465.12,91.64 L466.06,90.19 L467.00,88.78 L467.94,87.39 L468.88,86.04 L469.82,84.73 L470.77,83.45 L471.71,82.20 L472.65,80.99 L473.59,79.82 L474.53,78.68 L475.47,77.59 L476.41,76.52 L477.35,75.50 L478.29,74.52 L479.23,73.57 L480.17,72.67 L481.11,71.80 L482.05,70.98 L482.99,70.19 L483.93,69.45 L484.87,68.75 L485.81,68.09 L486.75,67.48 L487.69,66.91 L488.63,66.38 L489.57,65.91 L490.51,65.48 L491.45,65.10 L492.39,64.76 L493.33,64.48 L494.27,64.25 L495.21,64.06 L496.15,63.93 L497.09,63.85 L498.03,63.82 L498.98,63.85 L499.92,63.93 L500.86,64.06 L501.80,64.24 L502.74,64.48 L503.68,64.76 L504.62,65.10 L505.56,65.48 L506.50,65.92 L507.44,66.40 L508.38,66.93 L509.32,67.51 L510.26,68.13 L511.20,68.79 L512.14,69.51 L513.08,70.26 L514.02,71.06 L514.96,71.89 L515.90,72.77 L516.84,73.69 L517.78,74.64 L518.72,75.64 L519.66,76.66 L520.60,77.73 L521.54,78.83 L522.48,79.96 L523.42,81.12 L524.36,82.31 L525.30,83.53 L526.25,84.78 L527.19,86.06 L528.13,87.36 L529.07,88.69 L530.01,90.04 L530.95,91.41 L531.89,92.80 L532.83,94.21 L533.77,95.63 L534.71,97.08 L535.65,98.54 L536.59,100.01 L537.53,101.49 L538.47,102.98 L539.41,104.49 L540.35,106.00 L541.29,107.52 L542.23,109.05 L543.17,110.59 L544.11,112.15 L545.05,113.71 L545.99,115.29 L546.93,116.88 L547.87,118.49 L548.81,120.11 L549.75,121.75 L550.69,123.41 L551.63,125.08 L552.57,126.77 L553.51,128.47 L554.45,130.20 L555.40,131.94 L556.34,133.71 L557.28,135.49 L558.22,137.30 L559.16,139.13 L560.10,140.98 L561.04,142.85 L561.98,144.75 L562.92,146.67 L563.86,148.61 L564.80,150.58 L565.74,152.57 L566.68,154.58 L567.62,156.61 L568.56,158.66 L569.50,160.72 L570.44,162.79 L571.38,164.86 L572.32,166.94 L573.26,169.03 L574.20,171.11 L575.14,173.19 L576.08,175.27 L577.02,177.34 L577.96,179.41 L578.90,181.46 L579.84,183.49 L580.78,185.51 L581.72,187.51 L582.66,189.49 L583.61,191.45 L584.55,193.38 L585.49,195.28 L586.43,197.15 L587.37,198.99 L588.31,200.79 L589.25,202.56 L590.19,204.28 L591.13,205.97 L592.07,207.61 L593.01,209.20 L593.95,210.75 L594.89,212.24 L595.83,213.68 L596.77,215.07 L597.71,216.40 L598.65,217.68 L599.59,218.91 L600.53,220.08 L601.47,221.19 L602.41,222.26 L603.35,223.27 L604.29,224.23 L605.23,225.13 L606.17,225.99 L607.11,226.79 L608.05,227.54 L608.99,228.23 L609.93,228.88 L610.88,229.48 L611.82,230.03 L612.76,230.52 L613.70,230.97 L614.64,231.37 L615.58,231.73 L616.52,232.03 L617.46,232.29 L618.40,232.51 L619.34,232.68 L620.28,232.80 L621.22,232.88 L622.16,232.92 L623.10,232.91 L624.04,232.87 L624.98,232.78 L625.92,232.65 L626.86,232.48 L627.80,232.27 L628.74,232.02 L629.68,231.73 L630.62,231.39 L631.56,231.01 L632.50,230.59 L633.44,230.13 L634.38,229.63 L635.32,229.08 L636.26,228.49 L637.20,227.86 L638.14,227.19 L639.09,226.47 L640.03,225.72 L640.97,224.92 L641.91,224.08 L642.85,223.20 L643.79,222.28 L644.73,221.32 L645.67,220.32 L646.61,219.27 L647.55,218.19 L648.49,217.07 L649.43,215.91 L650.37,214.71 L651.31,213.47 L652.25,212.20 L653.19,210.89 L654.13,209.54 L655.07,208.16 L656.01,206.74 L656.95,205.28 L657.89,203.80 L658.83,202.28 L659.77,200.73 L660.71,199.14 L661.65,197.53 L662.59,195.89 L663.53,194.22 L664.47,192.53 L665.41,190.81 L666.35,189.06 L667.30,187.29 L668.24,185.50 L669.18,183.68 L670.12,181.84 L671.06,179.99 L672.00,178.11 L672.94,176.22 L673.88,174.31 L674.82,172.38 L675.76,170.44 L676.70,168.49 L677.64,166.53 L678.58,164.55 L679.52,162.56 L680.46,160.57 L681.40,158.56" fill="none" stroke="#f00" stroke-width="2.2" stroke-dasharray="6.3 1.3 3.6 1.3" stroke-linejoin="round" clip-path="url(#cp2)"/>
<ellipse cx="424.80" cy="172.44" rx="2.60" ry="3.00" fill="none" stroke="#f00" stroke-width="1.8"/>
<ellipse cx="481.90" cy="71.11" rx="2.60" ry="3.00" fill="none" stroke="#f00" stroke-width="1.8"/>
<ellipse cx="538.88" cy="103.65" rx="2.60" ry="3.00" fill="none" stroke="#f00" stroke-width="1.8"/>
<ellipse cx="595.92" cy="213.82" rx="2.60" ry="3.00" fill="none" stroke="#f00" stroke-width="1.8"/>
<ellipse cx="653.02" cy="211.13" rx="2.60" ry="3.00" fill="none" stroke="#f00" stroke-width="1.8"/>
<path d="M399.30,189.33 L400.24,188.67 L401.18,187.99 L402.12,187.28 L403.06,186.55 L404.00,185.81 L404.94,185.04 L405.88,184.25 L406.82,183.44 L407.76,182.61 L408.70,181.77 L409.64,180.90 L410.58,180.02 L411.52,179.13 L412.46,178.22 L413.41,177.29 L414.35,176.34 L415.29,175.39 L416.23,174.42 L417.17,173.43 L418.11,172.44 L419.05,171.43 L419.99,170.41 L420.93,169.38 L421.87,168.34 L422.81,167.30 L423.75,166.24 L424.69,165.18 L425.63,164.11 L426.57,163.03 L427.51,161.95 L428.45,160.86 L429.39,159.77 L430.33,158.67 L431.27,157.57 L432.21,156.47 L433.15,155.36 L434.09,154.24 L435.03,153.13 L435.97,152.01 L436.91,150.89 L437.85,149.77 L438.79,148.65 L439.73,147.53 L440.67,146.41 L441.62,145.28 L442.56,144.16 L443.50,143.04 L444.44,141.93 L445.38,140.81 L446.32,139.70 L447.26,138.60 L448.20,137.50 L449.14,136.40 L450.08,135.31 L451.02,134.23 L451.96,133.15 L452.90,132.08 L453.84,131.02 L454.78,129.96 L455.72,128.92 L456.66,127.89 L457.60,126.86 L458.54,125.85 L459.48,124.85 L460.42,123.85 L461.36,122.88 L462.30,121.91 L463.24,120.96 L464.18,120.02 L465.12,119.10 L466.06,118.19 L467.00,117.29 L467.94,116.41 L468.88,115.55 L469.82,114.70 L470.77,113.87 L471.71,113.06 L472.65,112.26 L473.59,111.49 L474.53,110.73 L475.47,109.99 L476.41,109.27 L477.35,108.57 L478.29,107.89 L479.23,107.22 L480.17,106.58 L481.11,105.96 L482.05,105.36 L482.99,104.79 L483.93,104.23 L484.87,103.70 L485.81,103.19 L486.75,102.71 L487.69,102.25 L488.63,101.81 L489.57,101.41 L490.51,101.03 L491.45,100.67 L492.39,100.35 L493.33,100.06 L494.27,99.80 L495.21,99.56 L496.15,99.36 L497.09,99.20 L498.03,99.06 L498.98,98.96 L499.92,98.89 L500.86,98.85 L501.80,98.85 L502.74,98.89 L503.68,98.96 L504.62,99.06 L505.56,99.20 L506.50,99.37 L507.44,99.58 L508.38,99.81 L509.32,100.08 L510.26,100.38 L511.20,100.71 L512.14,101.07 L513.08,101.45 L514.02,101.87 L514.96,102.31 L515.90,102.78 L516.84,103.27 L517.78,103.79 L518.72,104.33 L519.66,104.89 L520.60,105.48 L521.54,106.09 L522.48,106.72 L523.42,107.37 L524.36,108.04 L525.30,108.72 L526.25,109.42 L527.19,110.14 L528.13,110.88 L529.07,111.63 L530.01,112.39 L530.95,113.16 L531.89,113.95 L532.83,114.75 L533.77,115.55 L534.71,116.36 L535.65,117.19 L536.59,118.01 L537.53,118.84 L538.47,119.68 L539.41,120.52 L540.35,121.36 L541.29,122.21 L542.23,123.06 L543.17,123.92 L544.11,124.78 L545.05,125.64 L545.99,126.52 L546.93,127.40 L547.87,128.29 L548.81,129.18 L549.75,130.09 L550.69,131.00 L551.63,131.92 L552.57,132.86 L553.51,133.80 L554.45,134.76 L555.40,135.72 L556.34,136.70 L557.28,137.70 L558.22,138.70 L559.16,139.72 L560.10,140.75 L561.04,141.80 L561.98,142.86 L562.92,143.94 L563.86,145.04 L564.80,146.15 L565.74,147.27 L566.68,148.42 L567.62,149.58 L568.56,150.76 L569.50,151.96 L570.44,153.16 L571.38,154.38 L572.32,155.61 L573.26,156.85 L574.20,158.09 L575.14,159.34 L576.08,160.59 L577.02,161.84 L577.96,163.09 L578.90,164.34 L579.84,165.58 L580.78,166.82 L581.72,168.05 L582.66,169.28 L583.61,170.49 L584.55,171.69 L585.49,172.87 L586.43,174.04 L587.37,175.20 L588.31,176.33 L589.25,177.44 L590.19,178.54 L591.13,179.60 L592.07,180.65 L593.01,181.66 L593.95,182.65 L594.89,183.61 L595.83,184.53 L596.77,185.42 L597.71,186.28 L598.65,187.11 L599.59,187.90 L600.53,188.67 L601.47,189.40 L602.41,190.09 L603.35,190.76 L604.29,191.40 L605.23,192.00 L606.17,192.57 L607.11,193.11 L608.05,193.62 L608.99,194.10 L609.93,194.55 L610.88,194.98 L611.82,195.37 L612.76,195.73 L613.70,196.06 L614.64,196.37 L615.58,196.64 L616.52,196.89 L617.46,197.11 L618.40,197.31 L619.34,197.48 L620.28,197.62 L621.22,197.73 L622.16,197.82 L623.10,197.89 L624.04,197.93 L624.98,197.95 L625.92,197.95 L626.86,197.92 L627.80,197.87 L628.74,197.80 L629.68,197.71 L630.62,197.59 L631.56,197.45 L632.50,197.29 L633.44,197.10 L634.38,196.89 L635.32,196.65 L636.26,196.40 L637.20,196.12 L638.14,195.81 L639.09,195.48 L640.03,195.13 L640.97,194.75 L641.91,194.35 L642.85,193.92 L643.79,193.47 L644.73,193.00 L645.67,192.50 L646.61,191.98 L647.55,191.43 L648.49,190.86 L649.43,190.27 L650.37,189.65 L651.31,189.01 L652.25,188.34 L653.19,187.66 L654.13,186.95 L655.07,186.21 L656.01,185.46 L656.95,184.68 L657.89,183.88 L658.83,183.06 L659.77,182.22 L660.71,181.36 L661.65,180.48 L662.59,179.59 L663.53,178.67 L664.47,177.74 L665.41,176.79 L666.35,175.82 L667.30,174.84 L668.24,173.84 L669.18,172.82 L670.12,171.80 L671.06,170.75 L672.00,169.70 L672.94,168.63 L673.88,167.55 L674.82,166.46 L675.76,165.36 L676.70,164.25 L677.64,163.13 L678.58,162.00 L679.52,160.86 L680.46,159.71 L681.40,158.56" fill="none" stroke="#00f" stroke-width="2.3" stroke-dasharray="7.3 5.4" stroke-linejoin="round" clip-path="url(#cp2)"/>
<polygon points="424.80,160.45 427.80,165.05 424.80,169.65 421.80,165.05" fill="none" stroke="#00f" stroke-width="1.9" stroke-linejoin="round"/>
<polygon points="481.90,100.86 484.90,105.46 481.90,110.06 478.90,105.46" fill="none" stroke="#00f" stroke-width="1.9" stroke-linejoin="round"/>
<polygon points="538.88,115.45 541.88,120.05 538.88,124.65 535.88,120.05" fill="none" stroke="#00f" stroke-width="1.9" stroke-linejoin="round"/>
<polygon points="595.92,180.02 598.92,184.62 595.92,189.22 592.92,184.62" fill="none" stroke="#00f" stroke-width="1.9" stroke-linejoin="round"/>
<polygon points="653.02,183.18 656.02,187.78 653.02,192.38 650.02,187.78" fill="none" stroke="#00f" stroke-width="1.9" stroke-linejoin="round"/>
<rect x="620.30" y="14.30" width="54.20" height="44.40" fill="#fff" stroke="#999" stroke-width="1.1"/>
<line x1="623.10" y1="22.74" x2="648.65" y2="22.74" stroke="#000" stroke-width="2.2"/>
<polygon points="635.87,18.34 634.73,20.54 632.44,20.54 633.59,22.74 632.44,24.94 634.73,24.93 635.87,27.14 637.02,24.93 639.30,24.94 638.16,22.74 639.30,20.54 637.02,20.54" fill="#000" stroke="#000" stroke-width="0.6" stroke-linejoin="round"/>
<text class="t" transform="translate(650.65 26.34) scale(0.739 1)" font-size="10" fill="#333333"><tspan font-family="Liberation Serif" font-size="10.5">&#937;</tspan>=0</text>
<line x1="623.10" y1="36.50" x2="648.65" y2="36.50" stroke="#f00" stroke-width="2.2" stroke-dasharray="6.3 1.3 3.6 1.3" stroke-dashoffset="0.6"/>
<ellipse cx="635.87" cy="36.50" rx="2.60" ry="3.00" fill="none" stroke="#f00" stroke-width="1.8"/>
<text class="t" transform="translate(650.65 40.10) scale(0.739 1)" font-size="10" fill="#333333"><tspan font-family="Liberation Serif" font-size="10.5">&#937;</tspan>=0.7</text>
<line x1="623.10" y1="50.49" x2="648.65" y2="50.49" stroke="#00f" stroke-width="2.3" stroke-dasharray="7.3 5.4" stroke-dashoffset="1.6"/>
<polygon points="635.87,45.89 638.87,50.49 635.87,55.09 632.87,50.49" fill="none" stroke="#00f" stroke-width="1.9" stroke-linejoin="round"/>
<text class="t" transform="translate(650.65 54.09) scale(0.739 1)" font-size="10" fill="#333333"><tspan font-family="Liberation Serif" font-size="10.5">&#937;</tspan>=0.8</text>
<g transform="translate(377.8 149.5) rotate(-90)" class="t" fill="#333333"><text text-anchor="middle" font-size="10.5">u</text></g>
<clipPath id="cp3"><rect x="30.50" y="373.50" width="290.90" height="271.00"/></clipPath>
<g stroke="#8a8a8a" stroke-width="1.1"><rect x="30.50" y="376.50" width="290.90" height="265.00" fill="none" stroke="#8a8a8a" stroke-width="1.3"/><line x1="30.50" y1="641.50" x2="30.50" y2="638.50"/><line x1="30.50" y1="376.50" x2="30.50" y2="379.50"/><line x1="59.59" y1="641.50" x2="59.59" y2="638.50"/><line x1="59.59" y1="376.50" x2="59.59" y2="379.50"/><line x1="88.68" y1="641.50" x2="88.68" y2="638.50"/><line x1="88.68" y1="376.50" x2="88.68" y2="379.50"/><line x1="117.77" y1="641.50" x2="117.77" y2="638.50"/><line x1="117.77" y1="376.50" x2="117.77" y2="379.50"/><line x1="146.86" y1="641.50" x2="146.86" y2="638.50"/><line x1="146.86" y1="376.50" x2="146.86" y2="379.50"/><line x1="175.95" y1="641.50" x2="175.95" y2="638.50"/><line x1="175.95" y1="376.50" x2="175.95" y2="379.50"/><line x1="205.04" y1="641.50" x2="205.04" y2="638.50"/><line x1="205.04" y1="376.50" x2="205.04" y2="379.50"/><line x1="234.13" y1="641.50" x2="234.13" y2="638.50"/><line x1="234.13" y1="376.50" x2="234.13" y2="379.50"/><line x1="263.22" y1="641.50" x2="263.22" y2="638.50"/><line x1="263.22" y1="376.50" x2="263.22" y2="379.50"/><line x1="292.31" y1="641.50" x2="292.31" y2="638.50"/><line x1="292.31" y1="376.50" x2="292.31" y2="379.50"/><line x1="321.40" y1="641.50" x2="321.40" y2="638.50"/><line x1="321.40" y1="376.50" x2="321.40" y2="379.50"/><line x1="30.50" y1="641.50" x2="33.50" y2="641.50"/><line x1="321.40" y1="641.50" x2="318.40" y2="641.50"/><line x1="30.50" y1="597.33" x2="33.50" y2="597.33"/><line x1="321.40" y1="597.33" x2="318.40" y2="597.33"/><line x1="30.50" y1="553.17" x2="33.50" y2="553.17"/><line x1="321.40" y1="553.17" x2="318.40" y2="553.17"/><line x1="30.50" y1="509.00" x2="33.50" y2="509.00"/><line x1="321.40" y1="509.00" x2="318.40" y2="509.00"/><line x1="30.50" y1="464.83" x2="33.50" y2="464.83"/><line x1="321.40" y1="464.83" x2="318.40" y2="464.83"/><line x1="30.50" y1="420.67" x2="33.50" y2="420.67"/><line x1="321.40" y1="420.67" x2="318.40" y2="420.67"/><line x1="30.50" y1="376.50" x2="33.50" y2="376.50"/><line x1="321.40" y1="376.50" x2="318.40" y2="376.50"/></g>
<g class="t" font-size="10.5" fill="#333333"><text transform="translate(30.50 657.01) scale(0.832 0.959)" text-anchor="middle">0</text><text transform="translate(59.59 657.01) scale(0.832 0.959)" text-anchor="middle">0.5</text><text transform="translate(88.68 657.01) scale(0.832 0.959)" text-anchor="middle">1</text><text transform="translate(117.77 657.01) scale(0.832 0.959)" text-anchor="middle">1.5</text><text transform="translate(146.86 657.01) scale(0.832 0.959)" text-anchor="middle">2</text><text transform="translate(175.95 657.01) scale(0.832 0.959)" text-anchor="middle">2.5</text><text transform="translate(205.04 657.01) scale(0.832 0.959)" text-anchor="middle">3</text><text transform="translate(234.13 657.01) scale(0.832 0.959)" text-anchor="middle">3.5</text><text transform="translate(263.22 657.01) scale(0.832 0.959)" text-anchor="middle">4</text><text transform="translate(292.31 657.01) scale(0.832 0.959)" text-anchor="middle">4.5</text><text transform="translate(321.40 657.01) scale(0.832 0.959)" text-anchor="middle">5</text><text transform="translate(26.00 645.61) scale(0.832 0.959)" text-anchor="end">-6</text><text transform="translate(26.00 601.44) scale(0.832 0.959)" text-anchor="end">-4</text><text transform="translate(26.00 557.27) scale(0.832 0.959)" text-anchor="end">-2</text><text transform="translate(26.00 513.11) scale(0.832 0.959)" text-anchor="end">0</text><text transform="translate(26.00 468.94) scale(0.832 0.959)" text-anchor="end">2</text><text transform="translate(26.00 424.77) scale(0.832 0.959)" text-anchor="end">4</text><text transform="translate(26.00 380.61) scale(0.832 0.959)" text-anchor="end">6</text><text transform="translate(175.95 671.89) scale(0.832 0.959)" text-anchor="middle">x</text></g>
<path d="M30.50,512.47 L31.47,509.80 L32.44,507.13 L33.41,504.46 L34.38,501.80 L35.35,499.13 L36.32,496.48 L37.29,493.83 L38.26,491.18 L39.23,488.55 L40.20,485.93 L41.17,483.32 L42.14,480.73 L43.11,478.16 L44.08,475.60 L45.05,473.06 L46.01,470.54 L46.98,468.04 L47.95,465.57 L48.92,463.12 L49.89,460.70 L50.86,458.31 L51.83,455.94 L52.80,453.61 L53.77,451.30 L54.74,449.04 L55.71,446.80 L56.68,444.60 L57.65,442.44 L58.62,440.32 L59.59,438.24 L60.56,436.19 L61.53,434.19 L62.50,432.24 L63.47,430.32 L64.44,428.46 L65.41,426.64 L66.38,424.86 L67.35,423.14 L68.32,421.46 L69.29,419.84 L70.26,418.27 L71.23,416.75 L72.20,415.28 L73.17,413.87 L74.13,412.51 L75.10,411.21 L76.07,409.96 L77.04,408.78 L78.01,407.65 L78.98,406.57 L79.95,405.56 L80.92,404.61 L81.89,403.72 L82.86,402.89 L83.83,402.12 L84.80,401.41 L85.77,400.77 L86.74,400.19 L87.71,399.67 L88.68,399.21 L89.65,398.82 L90.62,398.49 L91.59,398.22 L92.56,398.02 L93.53,397.89 L94.50,397.82 L95.47,397.81 L96.44,397.87 L97.41,397.99 L98.38,398.17 L99.35,398.42 L100.32,398.74 L101.29,399.11 L102.26,399.55 L103.22,400.06 L104.19,400.63 L105.16,401.26 L106.13,401.95 L107.10,402.71 L108.07,403.52 L109.04,404.40 L110.01,405.34 L110.98,406.34 L111.95,407.39 L112.92,408.51 L113.89,409.68 L114.86,410.92 L115.83,412.21 L116.80,413.55 L117.77,414.95 L118.74,416.41 L119.71,417.91 L120.68,419.47 L121.65,421.09 L122.62,422.75 L123.59,424.47 L124.56,426.23 L125.53,428.04 L126.50,429.90 L127.47,431.80 L128.44,433.75 L129.41,435.74 L130.38,437.77 L131.35,439.85 L132.31,441.96 L133.28,444.12 L134.25,446.31 L135.22,448.54 L136.19,450.80 L137.16,453.09 L138.13,455.42 L139.10,457.78 L140.07,460.17 L141.04,462.59 L142.01,465.03 L142.98,467.50 L143.95,470.00 L144.92,472.51 L145.89,475.05 L146.86,477.61 L147.83,480.18 L148.80,482.77 L149.77,485.38 L150.74,488.00 L151.71,490.63 L152.68,493.27 L153.65,495.92 L154.62,498.58 L155.59,501.25 L156.56,503.92 L157.53,506.59 L158.50,509.26 L159.47,511.93 L160.44,514.60 L161.41,517.27 L162.37,519.93 L163.34,522.59 L164.31,525.24 L165.28,527.88 L166.25,530.50 L167.22,533.12 L168.19,535.72 L169.16,538.30 L170.13,540.87 L171.10,543.42 L172.07,545.95 L173.04,548.46 L174.01,550.94 L174.98,553.40 L175.95,555.83 L176.92,558.24 L177.89,560.62 L178.86,562.96 L179.83,565.28 L180.80,567.56 L181.77,569.81 L182.74,572.03 L183.71,574.20 L184.68,576.34 L185.65,578.44 L186.62,580.50 L187.59,582.51 L188.56,584.49 L189.53,586.42 L190.49,588.30 L191.46,590.14 L192.43,591.93 L193.40,593.68 L194.37,595.37 L195.34,597.01 L196.31,598.61 L197.28,600.15 L198.25,601.63 L199.22,603.06 L200.19,604.44 L201.16,605.76 L202.13,607.03 L203.10,608.24 L204.07,609.39 L205.04,610.48 L206.01,611.52 L206.98,612.49 L207.95,613.40 L208.92,614.25 L209.89,615.04 L210.86,615.77 L211.83,616.44 L212.80,617.05 L213.77,617.59 L214.74,618.06 L215.71,618.48 L216.68,618.83 L217.65,619.12 L218.62,619.34 L219.58,619.50 L220.55,619.59 L221.52,619.62 L222.49,619.59 L223.46,619.49 L224.43,619.32 L225.40,619.09 L226.37,618.80 L227.34,618.45 L228.31,618.03 L229.28,617.54 L230.25,616.99 L231.22,616.39 L232.19,615.71 L233.16,614.98 L234.13,614.18 L235.10,613.32 L236.07,612.41 L237.04,611.43 L238.01,610.39 L238.98,609.29 L239.95,608.13 L240.92,606.92 L241.89,605.65 L242.86,604.32 L243.83,602.94 L244.80,601.50 L245.77,600.01 L246.74,598.46 L247.71,596.87 L248.68,595.22 L249.64,593.52 L250.61,591.77 L251.58,589.97 L252.55,588.13 L253.52,586.24 L254.49,584.31 L255.46,582.33 L256.43,580.30 L257.40,578.24 L258.37,576.14 L259.34,573.99 L260.31,571.81 L261.28,569.60 L262.25,567.34 L263.22,565.05 L264.19,562.73 L265.16,560.38 L266.13,558.00 L267.10,555.59 L268.07,553.15 L269.04,550.69 L270.01,548.20 L270.98,545.69 L271.95,543.16 L272.92,540.60 L273.89,538.03 L274.86,535.44 L275.83,532.84 L276.80,530.22 L277.76,527.59 L278.73,524.95 L279.70,522.30 L280.67,519.64 L281.64,516.97 L282.61,514.30 L283.58,511.63 L284.55,508.95 L285.52,506.28 L286.49,503.60 L287.46,500.93 L288.43,498.26 L289.40,495.60 L290.37,492.95 L291.34,490.30 L292.31,487.67 L293.28,485.05 L294.25,482.44 L295.22,479.84 L296.19,477.27 L297.16,474.71 L298.13,472.17 L299.10,469.65 L300.07,467.16 L301.04,464.69 L302.01,462.24 L302.98,459.82 L303.95,457.43 L304.92,455.07 L305.89,452.74 L306.85,450.45 L307.82,448.18 L308.79,445.96 L309.76,443.77 L310.73,441.61 L311.70,439.50 L312.67,437.42 L313.64,435.39 L314.61,433.40 L315.58,431.45 L316.55,429.55 L317.52,427.69 L318.49,425.88 L319.46,424.12 L320.43,422.41 L321.40,420.74" fill="none" stroke="#000" stroke-width="2.2" stroke-linejoin="round" clip-path="url(#cp3)"/>
<polygon points="56.80,439.94 55.65,442.14 53.37,442.14 54.51,444.34 53.37,446.54 55.65,446.54 56.80,448.74 57.94,446.54 60.23,446.54 59.08,444.34 60.23,442.14 57.94,442.14" fill="#000" stroke="#000" stroke-width="0.6" stroke-linejoin="round"/>
<polygon points="115.68,407.60 114.53,409.80 112.25,409.80 113.39,412.00 112.25,414.20 114.53,414.19 115.68,416.40 116.82,414.19 119.10,414.20 117.96,412.00 119.10,409.80 116.82,409.80" fill="#000" stroke="#000" stroke-width="0.6" stroke-linejoin="round"/>
<polygon points="174.44,547.63 173.29,549.83 171.01,549.83 172.15,552.03 171.01,554.23 173.29,554.22 174.44,556.43 175.58,554.22 177.87,554.23 176.72,552.03 177.87,549.83 175.58,549.83" fill="#000" stroke="#000" stroke-width="0.6" stroke-linejoin="round"/>
<polygon points="233.26,610.50 232.11,612.70 229.83,612.70 230.97,614.90 229.83,617.10 232.11,617.10 233.26,619.30 234.40,617.10 236.69,617.10 235.54,614.90 236.69,612.70 234.40,612.70" fill="#000" stroke="#000" stroke-width="0.6" stroke-linejoin="round"/>
<polygon points="292.14,483.74 290.99,485.94 288.71,485.94 289.85,488.14 288.71,490.34 290.99,490.34 292.14,492.54 293.28,490.34 295.56,490.34 294.42,488.14 295.56,485.94 293.28,485.94" fill="#000" stroke="#000" stroke-width="0.6" stroke-linejoin="round"/>
<path d="M30.50,511.61 L31.47,510.26 L32.44,508.91 L33.41,507.55 L34.38,506.20 L35.35,504.85 L36.32,503.51 L37.29,502.16 L38.26,500.82 L39.23,499.49 L40.20,498.16 L41.17,496.84 L42.14,495.52 L43.11,494.22 L44.08,492.92 L45.05,491.63 L46.01,490.35 L46.98,489.08 L47.95,487.83 L48.92,486.58 L49.89,485.35 L50.86,484.13 L51.83,482.93 L52.80,481.75 L53.77,480.58 L54.74,479.42 L55.71,478.28 L56.68,477.17 L57.65,476.07 L58.62,474.99 L59.59,473.92 L60.56,472.88 L61.53,471.87 L62.50,470.87 L63.47,469.89 L64.44,468.94 L65.41,468.01 L66.38,467.11 L67.35,466.23 L68.32,465.37 L69.29,464.54 L70.26,463.74 L71.23,462.96 L72.20,462.21 L73.17,461.49 L74.13,460.79 L75.10,460.13 L76.07,459.49 L77.04,458.88 L78.01,458.30 L78.98,457.75 L79.95,457.23 L80.92,456.74 L81.89,456.28 L82.86,455.85 L83.83,455.45 L84.80,455.09 L85.77,454.75 L86.74,454.45 L87.71,454.17 L88.68,453.93 L89.65,453.73 L90.62,453.55 L91.59,453.41 L92.56,453.30 L93.53,453.22 L94.50,453.18 L95.47,453.16 L96.44,453.18 L97.41,453.23 L98.38,453.32 L99.35,453.44 L100.32,453.59 L101.29,453.77 L102.26,453.98 L103.22,454.23 L104.19,454.51 L105.16,454.82 L106.13,455.16 L107.10,455.53 L108.07,455.93 L109.04,456.37 L110.01,456.83 L110.98,457.33 L111.95,457.86 L112.92,458.41 L113.89,459.00 L114.86,459.61 L115.83,460.25 L116.80,460.93 L117.77,461.63 L118.74,462.35 L119.71,463.11 L120.68,463.89 L121.65,464.69 L122.62,465.53 L123.59,466.39 L124.56,467.27 L125.53,468.17 L126.50,469.11 L127.47,470.06 L128.44,471.04 L129.41,472.03 L130.38,473.05 L131.35,474.10 L132.31,475.16 L133.28,476.24 L134.25,477.34 L135.22,478.46 L136.19,479.59 L137.16,480.74 L138.13,481.91 L139.10,483.10 L140.07,484.30 L141.04,485.51 L142.01,486.74 L142.98,487.98 L143.95,489.23 L144.92,490.50 L145.89,491.77 L146.86,493.06 L147.83,494.35 L148.80,495.65 L149.77,496.96 L150.74,498.28 L151.71,499.60 L152.68,500.93 L153.65,502.26 L154.62,503.60 L155.59,504.94 L156.56,506.28 L157.53,507.62 L158.50,508.97 L159.47,510.31 L160.44,511.65 L161.41,513.00 L162.37,514.33 L163.34,515.67 L164.31,517.00 L165.28,518.33 L166.25,519.65 L167.22,520.96 L168.19,522.27 L169.16,523.57 L170.13,524.86 L171.10,526.14 L172.07,527.41 L173.04,528.67 L174.01,529.92 L174.98,531.16 L175.95,532.38 L176.92,533.59 L177.89,534.79 L178.86,535.97 L179.83,537.13 L180.80,538.28 L181.77,539.41 L182.74,540.52 L183.71,541.61 L184.68,542.69 L185.65,543.74 L186.62,544.78 L187.59,545.79 L188.56,546.78 L189.53,547.75 L190.49,548.70 L191.46,549.62 L192.43,550.52 L193.40,551.40 L194.37,552.25 L195.34,553.07 L196.31,553.87 L197.28,554.65 L198.25,555.39 L199.22,556.11 L200.19,556.80 L201.16,557.47 L202.13,558.10 L203.10,558.71 L204.07,559.29 L205.04,559.84 L206.01,560.35 L206.98,560.84 L207.95,561.30 L208.92,561.73 L209.89,562.12 L210.86,562.49 L211.83,562.82 L212.80,563.12 L213.77,563.40 L214.74,563.63 L215.71,563.84 L216.68,564.02 L217.65,564.16 L218.62,564.27 L219.58,564.35 L220.55,564.40 L221.52,564.41 L222.49,564.39 L223.46,564.34 L224.43,564.26 L225.40,564.14 L226.37,563.99 L227.34,563.81 L228.31,563.60 L229.28,563.36 L230.25,563.08 L231.22,562.78 L232.19,562.44 L233.16,562.07 L234.13,561.67 L235.10,561.24 L236.07,560.77 L237.04,560.28 L238.01,559.76 L238.98,559.21 L239.95,558.63 L240.92,558.02 L241.89,557.38 L242.86,556.71 L243.83,556.02 L244.80,555.30 L245.77,554.55 L246.74,553.77 L247.71,552.97 L248.68,552.14 L249.64,551.29 L250.61,550.42 L251.58,549.52 L252.55,548.59 L253.52,547.64 L254.49,546.67 L255.46,545.68 L256.43,544.67 L257.40,543.63 L258.37,542.58 L259.34,541.51 L260.31,540.41 L261.28,539.30 L262.25,538.18 L263.22,537.03 L264.19,535.87 L265.16,534.69 L266.13,533.50 L267.10,532.29 L268.07,531.07 L269.04,529.84 L270.01,528.60 L270.98,527.34 L271.95,526.07 L272.92,524.80 L273.89,523.51 L274.86,522.22 L275.83,520.92 L276.80,519.61 L277.76,518.29 L278.73,516.97 L279.70,515.65 L280.67,514.32 L281.64,512.99 L282.61,511.65 L283.58,510.32 L284.55,508.98 L285.52,507.65 L286.49,506.31 L287.46,504.98 L288.43,503.65 L289.40,502.32 L290.37,501.00 L291.34,499.68 L292.31,498.37 L293.28,497.06 L294.25,495.76 L295.22,494.47 L296.19,493.19 L297.16,491.91 L298.13,490.65 L299.10,489.40 L300.07,488.16 L301.04,486.93 L302.01,485.71 L302.98,484.51 L303.95,483.32 L304.92,482.15 L305.89,480.99 L306.85,479.85 L307.82,478.72 L308.79,477.62 L309.76,476.53 L310.73,475.46 L311.70,474.41 L312.67,473.39 L313.64,472.38 L314.61,471.39 L315.58,470.43 L316.55,469.48 L317.52,468.57 L318.49,467.67 L319.46,466.80 L320.43,465.95 L321.40,465.13" fill="none" stroke="#f00" stroke-width="2.2" stroke-dasharray="6.3 1.3 3.6 1.3" stroke-linejoin="round" clip-path="url(#cp3)"/>
<ellipse cx="56.80" cy="477.03" rx="2.60" ry="3.00" fill="none" stroke="#f00" stroke-width="1.8"/>
<ellipse cx="115.68" cy="460.15" rx="2.60" ry="3.00" fill="none" stroke="#f00" stroke-width="1.8"/>
<ellipse cx="174.44" cy="530.47" rx="2.60" ry="3.00" fill="none" stroke="#f00" stroke-width="1.8"/>
<ellipse cx="233.26" cy="562.03" rx="2.60" ry="3.00" fill="none" stroke="#f00" stroke-width="1.8"/>
<ellipse cx="292.14" cy="498.60" rx="2.60" ry="3.00" fill="none" stroke="#f00" stroke-width="1.8"/>
<path d="M30.50,511.46 L31.47,510.39 L32.44,509.31 L33.41,508.23 L34.38,507.15 L35.35,506.07 L36.32,504.99 L37.29,503.92 L38.26,502.84 L39.23,501.78 L40.20,500.71 L41.17,499.66 L42.14,498.60 L43.11,497.56 L44.08,496.52 L45.05,495.48 L46.01,494.46 L46.98,493.44 L47.95,492.44 L48.92,491.44 L49.89,490.45 L50.86,489.48 L51.83,488.51 L52.80,487.56 L53.77,486.62 L54.74,485.70 L55.71,484.78 L56.68,483.88 L57.65,483.00 L58.62,482.13 L59.59,481.28 L60.56,480.44 L61.53,479.62 L62.50,478.82 L63.47,478.04 L64.44,477.27 L65.41,476.53 L66.38,475.80 L67.35,475.09 L68.32,474.40 L69.29,473.73 L70.26,473.08 L71.23,472.46 L72.20,471.85 L73.17,471.27 L74.13,470.71 L75.10,470.17 L76.07,469.65 L77.04,469.16 L78.01,468.69 L78.98,468.24 L79.95,467.82 L80.92,467.42 L81.89,467.05 L82.86,466.70 L83.83,466.38 L84.80,466.08 L85.77,465.81 L86.74,465.56 L87.71,465.34 L88.68,465.14 L89.65,464.97 L90.62,464.82 L91.59,464.70 L92.56,464.61 L93.53,464.54 L94.50,464.50 L95.47,464.48 L96.44,464.49 L97.41,464.53 L98.38,464.59 L99.35,464.68 L100.32,464.79 L101.29,464.93 L102.26,465.10 L103.22,465.29 L104.19,465.51 L105.16,465.75 L106.13,466.02 L107.10,466.31 L108.07,466.63 L109.04,466.97 L110.01,467.34 L110.98,467.73 L111.95,468.15 L112.92,468.59 L113.89,469.05 L114.86,469.54 L115.83,470.05 L116.80,470.58 L117.77,471.14 L118.74,471.72 L119.71,472.31 L120.68,472.93 L121.65,473.58 L122.62,474.24 L123.59,474.92 L124.56,475.62 L125.53,476.34 L126.50,477.09 L127.47,477.84 L128.44,478.62 L129.41,479.42 L130.38,480.23 L131.35,481.06 L132.31,481.90 L133.28,482.76 L134.25,483.64 L135.22,484.53 L136.19,485.44 L137.16,486.36 L138.13,487.29 L139.10,488.23 L140.07,489.19 L141.04,490.16 L142.01,491.14 L142.98,492.13 L143.95,493.12 L144.92,494.13 L145.89,495.15 L146.86,496.17 L147.83,497.21 L148.80,498.24 L149.77,499.29 L150.74,500.34 L151.71,501.39 L152.68,502.45 L153.65,503.52 L154.62,504.58 L155.59,505.65 L156.56,506.72 L157.53,507.79 L158.50,508.87 L159.47,509.94 L160.44,511.01 L161.41,512.08 L162.37,513.15 L163.34,514.21 L164.31,515.27 L165.28,516.33 L166.25,517.38 L167.22,518.43 L168.19,519.47 L169.16,520.51 L170.13,521.54 L171.10,522.56 L172.07,523.58 L173.04,524.58 L174.01,525.58 L174.98,526.56 L175.95,527.54 L176.92,528.50 L177.89,529.45 L178.86,530.39 L179.83,531.32 L180.80,532.23 L181.77,533.13 L182.74,534.02 L183.71,534.89 L184.68,535.75 L185.65,536.59 L186.62,537.41 L187.59,538.22 L188.56,539.01 L189.53,539.78 L190.49,540.53 L191.46,541.26 L192.43,541.98 L193.40,542.68 L194.37,543.35 L195.34,544.01 L196.31,544.64 L197.28,545.26 L198.25,545.85 L199.22,546.42 L200.19,546.97 L201.16,547.49 L202.13,548.00 L203.10,548.48 L204.07,548.93 L205.04,549.37 L206.01,549.78 L206.98,550.16 L207.95,550.52 L208.92,550.86 L209.89,551.17 L210.86,551.46 L211.83,551.72 L212.80,551.96 L213.77,552.17 L214.74,552.36 L215.71,552.52 L216.68,552.65 L217.65,552.76 L218.62,552.84 L219.58,552.90 L220.55,552.93 L221.52,552.94 L222.49,552.92 L223.46,552.87 L224.43,552.80 L225.40,552.70 L226.37,552.58 L227.34,552.43 L228.31,552.26 L229.28,552.06 L230.25,551.83 L231.22,551.58 L232.19,551.30 L233.16,551.00 L234.13,550.68 L235.10,550.33 L236.07,549.96 L237.04,549.56 L238.01,549.14 L238.98,548.69 L239.95,548.22 L240.92,547.73 L241.89,547.21 L242.86,546.68 L243.83,546.12 L244.80,545.54 L245.77,544.93 L246.74,544.31 L247.71,543.67 L248.68,543.00 L249.64,542.32 L250.61,541.61 L251.58,540.89 L252.55,540.15 L253.52,539.39 L254.49,538.61 L255.46,537.81 L256.43,537.00 L257.40,536.17 L258.37,535.33 L259.34,534.47 L260.31,533.59 L261.28,532.70 L262.25,531.80 L263.22,530.88 L264.19,529.95 L265.16,529.01 L266.13,528.06 L267.10,527.09 L268.07,526.11 L269.04,525.13 L270.01,524.13 L270.98,523.13 L271.95,522.12 L272.92,521.10 L273.89,520.07 L274.86,519.04 L275.83,518.00 L276.80,516.96 L277.76,515.91 L278.73,514.86 L279.70,513.80 L280.67,512.74 L281.64,511.68 L282.61,510.62 L283.58,509.55 L284.55,508.49 L285.52,507.43 L286.49,506.36 L287.46,505.30 L288.43,504.24 L289.40,503.19 L290.37,502.14 L291.34,501.09 L292.31,500.04 L293.28,499.01 L294.25,497.97 L295.22,496.95 L296.19,495.93 L297.16,494.92 L298.13,493.92 L299.10,492.92 L300.07,491.94 L301.04,490.96 L302.01,490.00 L302.98,489.05 L303.95,488.11 L304.92,487.18 L305.89,486.26 L306.85,485.36 L307.82,484.47 L308.79,483.60 L309.76,482.74 L310.73,481.90 L311.70,481.07 L312.67,480.26 L313.64,479.47 L314.61,478.69 L315.58,477.93 L316.55,477.19 L317.52,476.47 L318.49,475.77 L319.46,475.08 L320.43,474.42 L321.40,473.78" fill="none" stroke="#00f" stroke-width="2.3" stroke-dasharray="7.3 5.4" stroke-linejoin="round" clip-path="url(#cp3)"/>
<polygon points="56.80,479.18 59.80,483.78 56.80,488.38 53.80,483.78" fill="none" stroke="#00f" stroke-width="1.9" stroke-linejoin="round"/>
<polygon points="115.68,465.37 118.68,469.97 115.68,474.57 112.68,469.97" fill="none" stroke="#00f" stroke-width="1.9" stroke-linejoin="round"/>
<polygon points="174.44,521.41 177.44,526.01 174.44,530.61 171.44,526.01" fill="none" stroke="#00f" stroke-width="1.9" stroke-linejoin="round"/>
<polygon points="233.26,546.37 236.26,550.97 233.26,555.57 230.26,550.97" fill="none" stroke="#00f" stroke-width="1.9" stroke-linejoin="round"/>
<polygon points="292.14,495.63 295.14,500.23 292.14,504.83 289.14,500.23" fill="none" stroke="#00f" stroke-width="1.9" stroke-linejoin="round"/>
<rect x="258.60" y="384.10" width="55.70" height="41.00" fill="#fff" stroke="#999" stroke-width="1.1"/>
<line x1="261.40" y1="391.89" x2="287.73" y2="391.89" stroke="#000" stroke-width="2.2"/>
<polygon points="274.57,387.49 273.42,389.69 271.14,389.69 272.28,391.89 271.14,394.09 273.42,394.09 274.57,396.29 275.71,394.09 278.00,394.09 276.85,391.89 278.00,389.69 275.71,389.69" fill="#000" stroke="#000" stroke-width="0.6" stroke-linejoin="round"/>
<text class="t" transform="translate(289.79 395.49) scale(0.760 1)" font-size="10" fill="#333333"><tspan font-family="Liberation Serif" font-size="10.5">&#937;</tspan>=0</text>
<line x1="261.40" y1="404.60" x2="287.73" y2="404.60" stroke="#f00" stroke-width="2.2" stroke-dasharray="6.3 1.3 3.6 1.3" stroke-dashoffset="0.6"/>
<ellipse cx="274.57" cy="404.60" rx="2.60" ry="3.00" fill="none" stroke="#f00" stroke-width="1.8"/>
<text class="t" transform="translate(289.79 408.20) scale(0.760 1)" font-size="10" fill="#333333"><tspan font-family="Liberation Serif" font-size="10.5">&#937;</tspan>=0.7</text>
<line x1="261.40" y1="417.52" x2="287.73" y2="417.52" stroke="#00f" stroke-width="2.3" stroke-dasharray="7.3 5.4" stroke-dashoffset="1.6"/>
<polygon points="274.57,412.92 277.57,417.52 274.57,422.12 271.57,417.52" fill="none" stroke="#00f" stroke-width="1.9" stroke-linejoin="round"/>
<text class="t" transform="translate(289.79 421.12) scale(0.760 1)" font-size="10" fill="#333333"><tspan font-family="Liberation Serif" font-size="10.5">&#937;</tspan>=0.8</text>
<g transform="translate(9.2 509.4) rotate(-90) scale(1.12 0.9)" class="t" fill="#333333"><text text-anchor="middle" font-size="10.5"><tspan font-family="Liberation Serif" font-size="11">&#963;</tspan><tspan font-size="9" dy="4.6">x</tspan></text></g>
<clipPath id="cp4"><rect x="403.50" y="375.40" width="278.30" height="269.40"/></clipPath>
<g stroke="#8a8a8a" stroke-width="1.1"><rect x="403.50" y="378.40" width="278.30" height="263.40" fill="none" stroke="#8a8a8a" stroke-width="1.3"/><line x1="403.50" y1="641.80" x2="403.50" y2="638.80"/><line x1="403.50" y1="378.40" x2="403.50" y2="381.40"/><line x1="431.33" y1="641.80" x2="431.33" y2="638.80"/><line x1="431.33" y1="378.40" x2="431.33" y2="381.40"/><line x1="459.16" y1="641.80" x2="459.16" y2="638.80"/><line x1="459.16" y1="378.40" x2="459.16" y2="381.40"/><line x1="486.99" y1="641.80" x2="486.99" y2="638.80"/><line x1="486.99" y1="378.40" x2="486.99" y2="381.40"/><line x1="514.82" y1="641.80" x2="514.82" y2="638.80"/><line x1="514.82" y1="378.40" x2="514.82" y2="381.40"/><line x1="542.65" y1="641.80" x2="542.65" y2="638.80"/><line x1="542.65" y1="378.40" x2="542.65" y2="381.40"/><line x1="570.48" y1="641.80" x2="570.48" y2="638.80"/><line x1="570.48" y1="378.40" x2="570.48" y2="381.40"/><line x1="598.31" y1="641.80" x2="598.31" y2="638.80"/><line x1="598.31" y1="378.40" x2="598.31" y2="381.40"/><line x1="626.14" y1="641.80" x2="626.14" y2="638.80"/><line x1="626.14" y1="378.40" x2="626.14" y2="381.40"/><line x1="653.97" y1="641.80" x2="653.97" y2="638.80"/><line x1="653.97" y1="378.40" x2="653.97" y2="381.40"/><line x1="681.80" y1="641.80" x2="681.80" y2="638.80"/><line x1="681.80" y1="378.40" x2="681.80" y2="381.40"/><line x1="403.50" y1="641.80" x2="406.50" y2="641.80"/><line x1="681.80" y1="641.80" x2="678.80" y2="641.80"/><line x1="403.50" y1="615.46" x2="406.50" y2="615.46"/><line x1="681.80" y1="615.46" x2="678.80" y2="615.46"/><line x1="403.50" y1="589.12" x2="406.50" y2="589.12"/><line x1="681.80" y1="589.12" x2="678.80" y2="589.12"/><line x1="403.50" y1="562.78" x2="406.50" y2="562.78"/><line x1="681.80" y1="562.78" x2="678.80" y2="562.78"/><line x1="403.50" y1="536.44" x2="406.50" y2="536.44"/><line x1="681.80" y1="536.44" x2="678.80" y2="536.44"/><line x1="403.50" y1="510.10" x2="406.50" y2="510.10"/><line x1="681.80" y1="510.10" x2="678.80" y2="510.10"/><line x1="403.50" y1="483.76" x2="406.50" y2="483.76"/><line x1="681.80" y1="483.76" x2="678.80" y2="483.76"/><line x1="403.50" y1="457.42" x2="406.50" y2="457.42"/><line x1="681.80" y1="457.42" x2="678.80" y2="457.42"/><line x1="403.50" y1="431.08" x2="406.50" y2="431.08"/><line x1="681.80" y1="431.08" x2="678.80" y2="431.08"/><line x1="403.50" y1="404.74" x2="406.50" y2="404.74"/><line x1="681.80" y1="404.74" x2="678.80" y2="404.74"/><line x1="403.50" y1="378.40" x2="406.50" y2="378.40"/><line x1="681.80" y1="378.40" x2="678.80" y2="378.40"/></g>
<g class="t" font-size="10.5" fill="#333333"><text transform="translate(403.50 657.39) scale(0.796 0.956)" text-anchor="middle">0</text><text transform="translate(431.33 657.39) scale(0.796 0.956)" text-anchor="middle">0.5</text><text transform="translate(459.16 657.39) scale(0.796 0.956)" text-anchor="middle">1</text><text transform="translate(486.99 657.39) scale(0.796 0.956)" text-anchor="middle">1.5</text><text transform="translate(514.82 657.39) scale(0.796 0.956)" text-anchor="middle">2</text><text transform="translate(542.65 657.39) scale(0.796 0.956)" text-anchor="middle">2.5</text><text transform="translate(570.48 657.39) scale(0.796 0.956)" text-anchor="middle">3</text><text transform="translate(598.31 657.39) scale(0.796 0.956)" text-anchor="middle">3.5</text><text transform="translate(626.14 657.39) scale(0.796 0.956)" text-anchor="middle">4</text><text transform="translate(653.97 657.39) scale(0.796 0.956)" text-anchor="middle">4.5</text><text transform="translate(681.80 657.39) scale(0.796 0.956)" text-anchor="middle">5</text><text transform="translate(399.00 646.19) scale(0.796 0.956)" text-anchor="end">-5</text><text transform="translate(399.00 619.85) scale(0.796 0.956)" text-anchor="end">-4</text><text transform="translate(399.00 593.51) scale(0.796 0.956)" text-anchor="end">-3</text><text transform="translate(399.00 567.17) scale(0.796 0.956)" text-anchor="end">-2</text><text transform="translate(399.00 540.83) scale(0.796 0.956)" text-anchor="end">-1</text><text transform="translate(399.00 514.49) scale(0.796 0.956)" text-anchor="end">0</text><text transform="translate(399.00 488.15) scale(0.796 0.956)" text-anchor="end">1</text><text transform="translate(399.00 461.81) scale(0.796 0.956)" text-anchor="end">2</text><text transform="translate(399.00 435.47) scale(0.796 0.956)" text-anchor="end">3</text><text transform="translate(399.00 409.13) scale(0.796 0.956)" text-anchor="end">4</text><text transform="translate(399.00 382.79) scale(0.796 0.956)" text-anchor="end">5</text><text transform="translate(542.65 671.88) scale(0.796 0.956)" text-anchor="middle">x</text></g>
<path d="M403.50,509.49 L404.43,512.44 L405.36,515.38 L406.28,518.33 L407.21,521.27 L408.14,524.20 L409.07,527.12 L409.99,530.04 L410.92,532.94 L411.85,535.82 L412.78,538.70 L413.70,541.55 L414.63,544.39 L415.56,547.20 L416.49,550.00 L417.42,552.77 L418.34,555.51 L419.27,558.23 L420.20,560.92 L421.13,563.58 L422.05,566.21 L422.98,568.80 L423.91,571.36 L424.84,573.89 L425.76,576.37 L426.69,578.82 L427.62,581.23 L428.55,583.60 L429.47,585.92 L430.40,588.20 L431.33,590.43 L432.26,592.62 L433.19,594.75 L434.11,596.84 L435.04,598.88 L435.97,600.86 L436.90,602.79 L437.82,604.67 L438.75,606.49 L439.68,608.26 L440.61,609.97 L441.53,611.62 L442.46,613.21 L443.39,614.74 L444.32,616.21 L445.25,617.61 L446.17,618.96 L447.10,620.24 L448.03,621.45 L448.96,622.61 L449.88,623.69 L450.81,624.71 L451.74,625.66 L452.67,626.55 L453.59,627.36 L454.52,628.11 L455.45,628.79 L456.38,629.40 L457.30,629.94 L458.23,630.41 L459.16,630.81 L460.09,631.14 L461.02,631.40 L461.94,631.59 L462.87,631.70 L463.80,631.75 L464.73,631.72 L465.65,631.63 L466.58,631.46 L467.51,631.22 L468.44,630.92 L469.36,630.54 L470.29,630.09 L471.22,629.57 L472.15,628.98 L473.07,628.32 L474.00,627.59 L474.93,626.80 L475.86,625.94 L476.79,625.00 L477.71,624.01 L478.64,622.94 L479.57,621.81 L480.50,620.61 L481.42,619.35 L482.35,618.03 L483.28,616.64 L484.21,615.19 L485.13,613.68 L486.06,612.11 L486.99,610.48 L487.92,608.79 L488.85,607.05 L489.77,605.24 L490.70,603.38 L491.63,601.47 L492.56,599.50 L493.48,597.49 L494.41,595.42 L495.34,593.30 L496.27,591.13 L497.19,588.91 L498.12,586.65 L499.05,584.35 L499.98,582.00 L500.90,579.61 L501.83,577.17 L502.76,574.70 L503.69,572.19 L504.62,569.65 L505.54,567.07 L506.47,564.46 L507.40,561.81 L508.33,559.14 L509.25,556.43 L510.18,553.70 L511.11,550.95 L512.04,548.16 L512.96,545.36 L513.89,542.54 L514.82,539.70 L515.75,536.84 L516.68,533.96 L517.60,531.07 L518.53,528.17 L519.46,525.26 L520.39,522.34 L521.31,519.41 L522.24,516.47 L523.17,513.53 L524.10,510.59 L525.02,507.65 L525.95,504.71 L526.88,501.78 L527.81,498.85 L528.74,495.92 L529.66,493.00 L530.59,490.09 L531.52,487.20 L532.45,484.31 L533.37,481.45 L534.30,478.59 L535.23,475.76 L536.16,472.95 L537.08,470.15 L538.01,467.38 L538.94,464.64 L539.87,461.92 L540.79,459.23 L541.72,456.57 L542.65,453.94 L543.58,451.34 L544.51,448.78 L545.43,446.25 L546.36,443.76 L547.29,441.30 L548.22,438.89 L549.14,436.52 L550.07,434.19 L551.00,431.90 L551.93,429.66 L552.85,427.47 L553.78,425.32 L554.71,423.22 L555.64,421.18 L556.56,419.18 L557.49,417.24 L558.42,415.35 L559.35,413.51 L560.28,411.74 L561.20,410.01 L562.13,408.35 L563.06,406.75 L563.99,405.20 L564.91,403.72 L565.84,402.29 L566.77,400.93 L567.70,399.64 L568.62,398.40 L569.55,397.24 L570.48,396.13 L571.41,395.10 L572.34,394.13 L573.26,393.22 L574.19,392.39 L575.12,391.62 L576.05,390.92 L576.97,390.29 L577.90,389.73 L578.83,389.24 L579.76,388.82 L580.68,388.47 L581.61,388.19 L582.54,387.98 L583.47,387.84 L584.39,387.77 L585.32,387.77 L586.25,387.85 L587.18,387.99 L588.11,388.21 L589.03,388.49 L589.96,388.85 L590.89,389.27 L591.82,389.77 L592.74,390.33 L593.67,390.97 L594.60,391.67 L595.53,392.44 L596.45,393.28 L597.38,394.19 L598.31,395.17 L599.24,396.21 L600.17,397.31 L601.09,398.49 L602.02,399.72 L602.95,401.02 L603.88,402.39 L604.80,403.81 L605.73,405.30 L606.66,406.85 L607.59,408.45 L608.51,410.12 L609.44,411.84 L610.37,413.62 L611.30,415.46 L612.22,417.35 L613.15,419.29 L614.08,421.29 L615.01,423.34 L615.94,425.43 L616.86,427.58 L617.79,429.78 L618.72,432.02 L619.65,434.30 L620.57,436.63 L621.50,439.00 L622.43,441.41 L623.36,443.86 L624.28,446.35 L625.21,448.88 L626.14,451.44 L627.07,454.04 L628.00,456.67 L628.92,459.32 L629.85,462.01 L630.78,464.72 L631.71,467.47 L632.63,470.23 L633.56,473.02 L634.49,475.83 L635.42,478.65 L636.34,481.50 L637.27,484.36 L638.20,487.24 L639.13,490.13 L640.05,493.03 L640.98,495.94 L641.91,498.86 L642.84,501.78 L643.77,504.71 L644.69,507.64 L645.62,510.58 L646.55,513.51 L647.48,516.44 L648.40,519.36 L649.33,522.28 L650.26,525.19 L651.19,528.09 L652.11,530.99 L653.04,533.87 L653.97,536.73 L654.90,539.58 L655.83,542.41 L656.75,545.22 L657.68,548.01 L658.61,550.78 L659.54,553.53 L660.46,556.25 L661.39,558.94 L662.32,561.60 L663.25,564.23 L664.17,566.83 L665.10,569.40 L666.03,571.93 L666.96,574.43 L667.88,576.89 L668.81,579.31 L669.74,581.69 L670.67,584.02 L671.60,586.32 L672.52,588.57 L673.45,590.77 L674.38,592.92 L675.31,595.03 L676.23,597.09 L677.16,599.09 L678.09,601.05 L679.02,602.95 L679.94,604.79 L680.87,606.58 L681.80,608.32" fill="none" stroke="#000" stroke-width="2.2" stroke-linejoin="round" clip-path="url(#cp4)"/>
<polygon points="428.66,579.48 427.52,581.68 425.23,581.68 426.37,583.88 425.23,586.08 427.52,586.08 428.66,588.28 429.80,586.08 432.09,586.08 430.94,583.88 432.09,581.68 429.80,581.68" fill="#000" stroke="#000" stroke-width="0.6" stroke-linejoin="round"/>
<polygon points="484.99,609.53 483.84,611.73 481.56,611.73 482.70,613.93 481.56,616.13 483.84,616.13 484.99,618.33 486.13,616.13 488.42,616.13 487.27,613.93 488.42,611.73 486.13,611.73" fill="#000" stroke="#000" stroke-width="0.6" stroke-linejoin="round"/>
<polygon points="541.20,453.66 540.06,455.86 537.77,455.86 538.92,458.06 537.77,460.26 540.06,460.25 541.20,462.46 542.35,460.25 544.63,460.26 543.49,458.06 544.63,455.86 542.35,455.86" fill="#000" stroke="#000" stroke-width="0.6" stroke-linejoin="round"/>
<polygon points="597.48,389.89 596.33,392.09 594.05,392.09 595.19,394.29 594.05,396.49 596.33,396.48 597.48,398.69 598.62,396.48 600.90,396.49 599.76,394.29 600.90,392.09 598.62,392.09" fill="#000" stroke="#000" stroke-width="0.6" stroke-linejoin="round"/>
<polygon points="653.80,531.82 652.66,534.02 650.37,534.02 651.52,536.22 650.37,538.42 652.66,538.41 653.80,540.62 654.95,538.41 657.23,538.42 656.09,536.22 657.23,534.02 654.95,534.02" fill="#000" stroke="#000" stroke-width="0.6" stroke-linejoin="round"/>
<path d="M403.50,509.84 L404.43,511.33 L405.36,512.82 L406.28,514.30 L407.21,515.79 L408.14,517.27 L409.07,518.75 L409.99,520.22 L410.92,521.68 L411.85,523.14 L412.78,524.59 L413.70,526.03 L414.63,527.46 L415.56,528.88 L416.49,530.29 L417.42,531.68 L418.34,533.07 L419.27,534.44 L420.20,535.79 L421.13,537.13 L422.05,538.45 L422.98,539.76 L423.91,541.05 L424.84,542.32 L425.76,543.57 L426.69,544.81 L427.62,546.02 L428.55,547.21 L429.47,548.37 L430.40,549.52 L431.33,550.64 L432.26,551.74 L433.19,552.81 L434.11,553.86 L435.04,554.88 L435.97,555.88 L436.90,556.85 L437.82,557.79 L438.75,558.71 L439.68,559.59 L440.61,560.45 L441.53,561.27 L442.46,562.07 L443.39,562.83 L444.32,563.57 L445.25,564.27 L446.17,564.94 L447.10,565.58 L448.03,566.19 L448.96,566.76 L449.88,567.30 L450.81,567.81 L451.74,568.28 L452.67,568.72 L453.59,569.13 L454.52,569.50 L455.45,569.83 L456.38,570.13 L457.30,570.40 L458.23,570.63 L459.16,570.82 L460.09,570.98 L461.02,571.10 L461.94,571.19 L462.87,571.24 L463.80,571.26 L464.73,571.24 L465.65,571.18 L466.58,571.09 L467.51,570.97 L468.44,570.80 L469.36,570.60 L470.29,570.37 L471.22,570.10 L472.15,569.80 L473.07,569.46 L474.00,569.09 L474.93,568.68 L475.86,568.24 L476.79,567.76 L477.71,567.25 L478.64,566.71 L479.57,566.13 L480.50,565.52 L481.42,564.88 L482.35,564.21 L483.28,563.50 L484.21,562.77 L485.13,562.00 L486.06,561.20 L486.99,560.38 L487.92,559.52 L488.85,558.63 L489.77,557.72 L490.70,556.78 L491.63,555.81 L492.56,554.82 L493.48,553.80 L494.41,552.75 L495.34,551.68 L496.27,550.58 L497.19,549.46 L498.12,548.32 L499.05,547.15 L499.98,545.97 L500.90,544.76 L501.83,543.53 L502.76,542.29 L503.69,541.02 L504.62,539.74 L505.54,538.44 L506.47,537.12 L507.40,535.79 L508.33,534.44 L509.25,533.07 L510.18,531.70 L511.11,530.31 L512.04,528.91 L512.96,527.50 L513.89,526.08 L514.82,524.65 L515.75,523.21 L516.68,521.76 L517.60,520.31 L518.53,518.85 L519.46,517.38 L520.39,515.91 L521.31,514.44 L522.24,512.96 L523.17,511.49 L524.10,510.01 L525.02,508.53 L525.95,507.06 L526.88,505.58 L527.81,504.11 L528.74,502.64 L529.66,501.17 L530.59,499.71 L531.52,498.26 L532.45,496.81 L533.37,495.38 L534.30,493.94 L535.23,492.52 L536.16,491.11 L537.08,489.71 L538.01,488.32 L538.94,486.95 L539.87,485.59 L540.79,484.24 L541.72,482.91 L542.65,481.59 L543.58,480.29 L544.51,479.00 L545.43,477.74 L546.36,476.49 L547.29,475.26 L548.22,474.06 L549.14,472.87 L550.07,471.71 L551.00,470.56 L551.93,469.44 L552.85,468.35 L553.78,467.28 L554.71,466.23 L555.64,465.21 L556.56,464.21 L557.49,463.24 L558.42,462.30 L559.35,461.39 L560.28,460.50 L561.20,459.64 L562.13,458.81 L563.06,458.02 L563.99,457.25 L564.91,456.51 L565.84,455.80 L566.77,455.13 L567.70,454.48 L568.62,453.87 L569.55,453.29 L570.48,452.75 L571.41,452.24 L572.34,451.76 L573.26,451.31 L574.19,450.90 L575.12,450.52 L576.05,450.18 L576.97,449.87 L577.90,449.60 L578.83,449.36 L579.76,449.15 L580.68,448.99 L581.61,448.85 L582.54,448.76 L583.47,448.69 L584.39,448.67 L585.32,448.68 L586.25,448.72 L587.18,448.80 L588.11,448.92 L589.03,449.07 L589.96,449.25 L590.89,449.47 L591.82,449.73 L592.74,450.02 L593.67,450.34 L594.60,450.70 L595.53,451.10 L596.45,451.52 L597.38,451.99 L598.31,452.48 L599.24,453.01 L600.17,453.57 L601.09,454.16 L602.02,454.79 L602.95,455.45 L603.88,456.14 L604.80,456.86 L605.73,457.61 L606.66,458.39 L607.59,459.20 L608.51,460.04 L609.44,460.91 L610.37,461.81 L611.30,462.73 L612.22,463.68 L613.15,464.66 L614.08,465.66 L615.01,466.69 L615.94,467.75 L616.86,468.83 L617.79,469.93 L618.72,471.06 L619.65,472.20 L620.57,473.37 L621.50,474.56 L622.43,475.78 L623.36,477.01 L624.28,478.25 L625.21,479.52 L626.14,480.81 L627.07,482.11 L628.00,483.42 L628.92,484.76 L629.85,486.10 L630.78,487.46 L631.71,488.84 L632.63,490.22 L633.56,491.62 L634.49,493.02 L635.42,494.44 L636.34,495.86 L637.27,497.29 L638.20,498.73 L639.13,500.18 L640.05,501.63 L640.98,503.09 L641.91,504.54 L642.84,506.01 L643.77,507.47 L644.69,508.93 L645.62,510.40 L646.55,511.86 L647.48,513.33 L648.40,514.79 L649.33,516.24 L650.26,517.70 L651.19,519.15 L652.11,520.59 L653.04,522.03 L653.97,523.45 L654.90,524.88 L655.83,526.29 L656.75,527.69 L657.68,529.08 L658.61,530.46 L659.54,531.83 L660.46,533.18 L661.39,534.52 L662.32,535.85 L663.25,537.16 L664.17,538.45 L665.10,539.73 L666.03,540.99 L666.96,542.23 L667.88,543.46 L668.81,544.66 L669.74,545.84 L670.67,547.00 L671.60,548.14 L672.52,549.26 L673.45,550.35 L674.38,551.42 L675.31,552.47 L676.23,553.49 L677.16,554.48 L678.09,555.45 L679.02,556.40 L679.94,557.31 L680.87,558.20 L681.80,559.06" fill="none" stroke="#f00" stroke-width="2.2" stroke-dasharray="6.3 1.3 3.6 1.3" stroke-linejoin="round" clip-path="url(#cp4)"/>
<ellipse cx="428.66" cy="547.35" rx="2.60" ry="3.00" fill="none" stroke="#f00" stroke-width="1.8"/>
<ellipse cx="484.99" cy="562.12" rx="2.60" ry="3.00" fill="none" stroke="#f00" stroke-width="1.8"/>
<ellipse cx="541.20" cy="483.65" rx="2.60" ry="3.00" fill="none" stroke="#f00" stroke-width="1.8"/>
<ellipse cx="597.48" cy="452.03" rx="2.60" ry="3.00" fill="none" stroke="#f00" stroke-width="1.8"/>
<ellipse cx="653.80" cy="523.20" rx="2.60" ry="3.00" fill="none" stroke="#f00" stroke-width="1.8"/>
<path d="M403.50,509.70 L404.43,510.90 L405.36,512.09 L406.28,513.28 L407.21,514.47 L408.14,515.65 L409.07,516.83 L409.99,518.01 L410.92,519.19 L411.85,520.35 L412.78,521.52 L413.70,522.67 L414.63,523.82 L415.56,524.96 L416.49,526.09 L417.42,527.21 L418.34,528.32 L419.27,529.42 L420.20,530.51 L421.13,531.58 L422.05,532.65 L422.98,533.70 L423.91,534.73 L424.84,535.75 L425.76,536.76 L426.69,537.75 L427.62,538.72 L428.55,539.68 L429.47,540.62 L430.40,541.54 L431.33,542.45 L432.26,543.33 L433.19,544.20 L434.11,545.04 L435.04,545.87 L435.97,546.67 L436.90,547.45 L437.82,548.21 L438.75,548.95 L439.68,549.67 L440.61,550.36 L441.53,551.03 L442.46,551.67 L443.39,552.29 L444.32,552.89 L445.25,553.46 L446.17,554.00 L447.10,554.52 L448.03,555.01 L448.96,555.48 L449.88,555.92 L450.81,556.33 L451.74,556.72 L452.67,557.08 L453.59,557.41 L454.52,557.72 L455.45,557.99 L456.38,558.24 L457.30,558.46 L458.23,558.65 L459.16,558.82 L460.09,558.95 L461.02,559.06 L461.94,559.14 L462.87,559.19 L463.80,559.21 L464.73,559.20 L465.65,559.16 L466.58,559.10 L467.51,559.00 L468.44,558.88 L469.36,558.73 L470.29,558.55 L471.22,558.34 L472.15,558.11 L473.07,557.84 L474.00,557.55 L474.93,557.23 L475.86,556.89 L476.79,556.51 L477.71,556.11 L478.64,555.68 L479.57,555.23 L480.50,554.75 L481.42,554.24 L482.35,553.71 L483.28,553.15 L484.21,552.57 L485.13,551.96 L486.06,551.33 L486.99,550.68 L487.92,550.00 L488.85,549.30 L489.77,548.57 L490.70,547.82 L491.63,547.05 L492.56,546.26 L493.48,545.45 L494.41,544.62 L495.34,543.76 L496.27,542.89 L497.19,542.00 L498.12,541.09 L499.05,540.16 L499.98,539.22 L500.90,538.25 L501.83,537.28 L502.76,536.28 L503.69,535.27 L504.62,534.25 L505.54,533.21 L506.47,532.16 L507.40,531.09 L508.33,530.02 L509.25,528.93 L510.18,527.83 L511.11,526.72 L512.04,525.60 L512.96,524.48 L513.89,523.34 L514.82,522.20 L515.75,521.05 L516.68,519.89 L517.60,518.73 L518.53,517.56 L519.46,516.39 L520.39,515.21 L521.31,514.03 L522.24,512.85 L523.17,511.67 L524.10,510.49 L525.02,509.30 L525.95,508.12 L526.88,506.94 L527.81,505.76 L528.74,504.59 L529.66,503.41 L530.59,502.24 L531.52,501.08 L532.45,499.92 L533.37,498.76 L534.30,497.62 L535.23,496.48 L536.16,495.35 L537.08,494.22 L538.01,493.11 L538.94,492.01 L539.87,490.91 L540.79,489.83 L541.72,488.76 L542.65,487.71 L543.58,486.66 L544.51,485.63 L545.43,484.61 L546.36,483.61 L547.29,482.63 L548.22,481.66 L549.14,480.70 L550.07,479.77 L551.00,478.85 L551.93,477.95 L552.85,477.07 L553.78,476.21 L554.71,475.36 L555.64,474.54 L556.56,473.74 L557.49,472.96 L558.42,472.20 L559.35,471.46 L560.28,470.75 L561.20,470.06 L562.13,469.39 L563.06,468.75 L563.99,468.13 L564.91,467.53 L565.84,466.96 L566.77,466.42 L567.70,465.90 L568.62,465.40 L569.55,464.93 L570.48,464.49 L571.41,464.08 L572.34,463.69 L573.26,463.33 L574.19,462.99 L575.12,462.68 L576.05,462.40 L576.97,462.15 L577.90,461.93 L578.83,461.73 L579.76,461.56 L580.68,461.42 L581.61,461.31 L582.54,461.23 L583.47,461.17 L584.39,461.15 L585.32,461.15 L586.25,461.18 L587.18,461.24 L588.11,461.33 L589.03,461.44 L589.96,461.59 L590.89,461.76 L591.82,461.96 L592.74,462.19 L593.67,462.44 L594.60,462.72 L595.53,463.04 L596.45,463.37 L597.38,463.74 L598.31,464.13 L599.24,464.55 L600.17,464.99 L601.09,465.47 L602.02,465.96 L602.95,466.49 L603.88,467.03 L604.80,467.61 L605.73,468.20 L606.66,468.82 L607.59,469.47 L608.51,470.14 L609.44,470.83 L610.37,471.55 L611.30,472.28 L612.22,473.04 L613.15,473.82 L614.08,474.62 L615.01,475.45 L615.94,476.29 L616.86,477.15 L617.79,478.03 L618.72,478.93 L619.65,479.84 L620.57,480.78 L621.50,481.73 L622.43,482.70 L623.36,483.68 L624.28,484.68 L625.21,485.69 L626.14,486.72 L627.07,487.76 L628.00,488.81 L628.92,489.88 L629.85,490.95 L630.78,492.04 L631.71,493.14 L632.63,494.25 L633.56,495.36 L634.49,496.49 L635.42,497.62 L636.34,498.76 L637.27,499.91 L638.20,501.06 L639.13,502.22 L640.05,503.38 L640.98,504.54 L641.91,505.71 L642.84,506.88 L643.77,508.05 L644.69,509.23 L645.62,510.40 L646.55,511.57 L647.48,512.74 L648.40,513.91 L649.33,515.08 L650.26,516.25 L651.19,517.41 L652.11,518.56 L653.04,519.71 L653.97,520.86 L654.90,522.00 L655.83,523.13 L656.75,524.25 L657.68,525.37 L658.61,526.48 L659.54,527.57 L660.46,528.66 L661.39,529.73 L662.32,530.80 L663.25,531.85 L664.17,532.89 L665.10,533.91 L666.03,534.92 L666.96,535.92 L667.88,536.90 L668.81,537.87 L669.74,538.82 L670.67,539.75 L671.60,540.66 L672.52,541.56 L673.45,542.44 L674.38,543.30 L675.31,544.13 L676.23,544.95 L677.16,545.75 L678.09,546.53 L679.02,547.29 L679.94,548.02 L680.87,548.74 L681.80,549.43" fill="none" stroke="#00f" stroke-width="2.3" stroke-dasharray="7.3 5.4" stroke-linejoin="round" clip-path="url(#cp4)"/>
<polygon points="428.66,535.20 431.66,539.80 428.66,544.40 425.66,539.80" fill="none" stroke="#00f" stroke-width="1.9" stroke-linejoin="round"/>
<polygon points="484.99,547.46 487.99,552.06 484.99,556.66 481.99,552.06" fill="none" stroke="#00f" stroke-width="1.9" stroke-linejoin="round"/>
<polygon points="541.20,484.76 544.20,489.36 541.20,493.96 538.20,489.36" fill="none" stroke="#00f" stroke-width="1.9" stroke-linejoin="round"/>
<polygon points="597.48,459.18 600.48,463.78 597.48,468.38 594.48,463.78" fill="none" stroke="#00f" stroke-width="1.9" stroke-linejoin="round"/>
<polygon points="653.80,516.05 656.80,520.65 653.80,525.25 650.80,520.65" fill="none" stroke="#00f" stroke-width="1.9" stroke-linejoin="round"/>
<rect x="621.50" y="386.40" width="53.60" height="41.20" fill="#fff" stroke="#999" stroke-width="1.1"/>
<line x1="624.30" y1="394.23" x2="649.53" y2="394.23" stroke="#000" stroke-width="2.2"/>
<polygon points="636.92,389.83 635.77,392.03 633.49,392.03 634.63,394.23 633.49,396.43 635.77,396.43 636.92,398.63 638.06,396.43 640.35,396.43 639.20,394.23 640.35,392.03 638.06,392.03" fill="#000" stroke="#000" stroke-width="0.6" stroke-linejoin="round"/>
<text class="t" transform="translate(651.52 397.83) scale(0.731 1)" font-size="10" fill="#333333"><tspan font-family="Liberation Serif" font-size="10.5">&#937;</tspan>=0</text>
<line x1="624.30" y1="407.00" x2="649.53" y2="407.00" stroke="#f00" stroke-width="2.2" stroke-dasharray="6.3 1.3 3.6 1.3" stroke-dashoffset="0.6"/>
<ellipse cx="636.92" cy="407.00" rx="2.60" ry="3.00" fill="none" stroke="#f00" stroke-width="1.8"/>
<text class="t" transform="translate(651.52 410.60) scale(0.731 1)" font-size="10" fill="#333333"><tspan font-family="Liberation Serif" font-size="10.5">&#937;</tspan>=0.7</text>
<line x1="624.30" y1="419.98" x2="649.53" y2="419.98" stroke="#00f" stroke-width="2.3" stroke-dasharray="7.3 5.4" stroke-dashoffset="1.6"/>
<polygon points="636.92,415.38 639.92,419.98 636.92,424.58 633.92,419.98" fill="none" stroke="#00f" stroke-width="1.9" stroke-linejoin="round"/>
<text class="t" transform="translate(651.52 423.58) scale(0.731 1)" font-size="10" fill="#333333"><tspan font-family="Liberation Serif" font-size="10.5">&#937;</tspan>=0.8</text>
<g transform="translate(383.2 510.2) rotate(-90) scale(1.0 0.9)" class="t" fill="#333333"><text text-anchor="middle" font-size="10.5"><tspan font-family="Liberation Serif" font-size="10.5">&#967;</tspan><tspan font-size="9" dy="4.56" dx="1.1">x</tspan></text></g>
<clipPath id="cp5"><rect x="30.90" y="718.50" width="293.70" height="259.10"/></clipPath>
<g stroke="#8a8a8a" stroke-width="1.1"><rect x="30.90" y="721.50" width="293.70" height="253.10" fill="none" stroke="#8a8a8a" stroke-width="1.3"/><line x1="30.90" y1="974.60" x2="30.90" y2="971.60"/><line x1="30.90" y1="721.50" x2="30.90" y2="724.50"/><line x1="60.27" y1="974.60" x2="60.27" y2="971.60"/><line x1="60.27" y1="721.50" x2="60.27" y2="724.50"/><line x1="89.64" y1="974.60" x2="89.64" y2="971.60"/><line x1="89.64" y1="721.50" x2="89.64" y2="724.50"/><line x1="119.01" y1="974.60" x2="119.01" y2="971.60"/><line x1="119.01" y1="721.50" x2="119.01" y2="724.50"/><line x1="148.38" y1="974.60" x2="148.38" y2="971.60"/><line x1="148.38" y1="721.50" x2="148.38" y2="724.50"/><line x1="177.75" y1="974.60" x2="177.75" y2="971.60"/><line x1="177.75" y1="721.50" x2="177.75" y2="724.50"/><line x1="207.12" y1="974.60" x2="207.12" y2="971.60"/><line x1="207.12" y1="721.50" x2="207.12" y2="724.50"/><line x1="236.49" y1="974.60" x2="236.49" y2="971.60"/><line x1="236.49" y1="721.50" x2="236.49" y2="724.50"/><line x1="265.86" y1="974.60" x2="265.86" y2="971.60"/><line x1="265.86" y1="721.50" x2="265.86" y2="724.50"/><line x1="295.23" y1="974.60" x2="295.23" y2="971.60"/><line x1="295.23" y1="721.50" x2="295.23" y2="724.50"/><line x1="324.60" y1="974.60" x2="324.60" y2="971.60"/><line x1="324.60" y1="721.50" x2="324.60" y2="724.50"/><line x1="30.90" y1="974.60" x2="33.90" y2="974.60"/><line x1="324.60" y1="974.60" x2="321.60" y2="974.60"/><line x1="30.90" y1="942.96" x2="33.90" y2="942.96"/><line x1="324.60" y1="942.96" x2="321.60" y2="942.96"/><line x1="30.90" y1="911.33" x2="33.90" y2="911.33"/><line x1="324.60" y1="911.33" x2="321.60" y2="911.33"/><line x1="30.90" y1="879.69" x2="33.90" y2="879.69"/><line x1="324.60" y1="879.69" x2="321.60" y2="879.69"/><line x1="30.90" y1="848.05" x2="33.90" y2="848.05"/><line x1="324.60" y1="848.05" x2="321.60" y2="848.05"/><line x1="30.90" y1="816.41" x2="33.90" y2="816.41"/><line x1="324.60" y1="816.41" x2="321.60" y2="816.41"/><line x1="30.90" y1="784.77" x2="33.90" y2="784.77"/><line x1="324.60" y1="784.77" x2="321.60" y2="784.77"/><line x1="30.90" y1="753.14" x2="33.90" y2="753.14"/><line x1="324.60" y1="753.14" x2="321.60" y2="753.14"/><line x1="30.90" y1="721.50" x2="33.90" y2="721.50"/><line x1="324.60" y1="721.50" x2="321.60" y2="721.50"/></g>
<g class="t" font-size="10.5" fill="#333333"><text transform="translate(30.90 989.71) scale(0.840 0.934)" text-anchor="middle">0</text><text transform="translate(60.27 989.71) scale(0.840 0.934)" text-anchor="middle">0.5</text><text transform="translate(89.64 989.71) scale(0.840 0.934)" text-anchor="middle">1</text><text transform="translate(119.01 989.71) scale(0.840 0.934)" text-anchor="middle">1.5</text><text transform="translate(148.38 989.71) scale(0.840 0.934)" text-anchor="middle">2</text><text transform="translate(177.75 989.71) scale(0.840 0.934)" text-anchor="middle">2.5</text><text transform="translate(207.12 989.71) scale(0.840 0.934)" text-anchor="middle">3</text><text transform="translate(236.49 989.71) scale(0.840 0.934)" text-anchor="middle">3.5</text><text transform="translate(265.86 989.71) scale(0.840 0.934)" text-anchor="middle">4</text><text transform="translate(295.23 989.71) scale(0.840 0.934)" text-anchor="middle">4.5</text><text transform="translate(324.60 989.71) scale(0.840 0.934)" text-anchor="middle">5</text><text transform="translate(26.40 978.56) scale(0.840 0.934)" text-anchor="end">0</text><text transform="translate(26.40 946.93) scale(0.840 0.934)" text-anchor="end">0.5</text><text transform="translate(26.40 915.29) scale(0.840 0.934)" text-anchor="end">1</text><text transform="translate(26.40 883.65) scale(0.840 0.934)" text-anchor="end">1.5</text><text transform="translate(26.40 852.01) scale(0.840 0.934)" text-anchor="end">2</text><text transform="translate(26.40 820.38) scale(0.840 0.934)" text-anchor="end">2.5</text><text transform="translate(26.40 788.74) scale(0.840 0.934)" text-anchor="end">3</text><text transform="translate(26.40 757.10) scale(0.840 0.934)" text-anchor="end">3.5</text><text transform="translate(26.40 725.46) scale(0.840 0.934)" text-anchor="end">4</text><text transform="translate(177.75 1003.62) scale(0.840 0.934)" text-anchor="middle">x</text></g>
<path d="M30.90,912.27 L31.88,913.35 L32.86,914.40 L33.84,915.43 L34.82,916.45 L35.80,917.45 L36.77,918.43 L37.75,919.40 L38.73,920.34 L39.71,921.28 L40.69,922.19 L41.67,923.09 L42.65,923.98 L43.63,924.85 L44.61,925.70 L45.59,926.54 L46.56,927.37 L47.54,928.18 L48.52,928.98 L49.50,929.76 L50.48,930.53 L51.46,931.29 L52.44,932.03 L53.42,932.77 L54.40,933.48 L55.38,934.19 L56.35,934.89 L57.33,935.57 L58.31,936.24 L59.29,936.90 L60.27,937.55 L61.25,938.18 L62.23,938.81 L63.21,939.42 L64.19,940.03 L65.17,940.62 L66.14,941.21 L67.12,941.78 L68.10,942.34 L69.08,942.90 L70.06,943.44 L71.04,943.98 L72.02,944.50 L73.00,945.02 L73.98,945.53 L74.96,946.03 L75.93,946.52 L76.91,947.00 L77.89,947.48 L78.87,947.94 L79.85,948.40 L80.83,948.85 L81.81,949.29 L82.79,949.73 L83.77,950.16 L84.75,950.58 L85.72,950.99 L86.70,951.39 L87.68,951.79 L88.66,952.19 L89.64,952.57 L90.62,952.95 L91.60,953.32 L92.58,953.69 L93.56,954.05 L94.53,954.40 L95.51,954.75 L96.49,955.09 L97.47,955.42 L98.45,955.75 L99.43,956.08 L100.41,956.39 L101.39,956.71 L102.37,957.02 L103.35,957.32 L104.33,957.61 L105.30,957.91 L106.28,958.19 L107.26,958.47 L108.24,958.75 L109.22,959.02 L110.20,959.29 L111.18,959.56 L112.16,959.81 L113.14,960.07 L114.12,960.32 L115.09,960.56 L116.07,960.80 L117.05,961.04 L118.03,961.27 L119.01,961.50 L119.99,961.73 L120.97,961.95 L121.95,962.17 L122.93,962.38 L123.91,962.59 L124.88,962.80 L125.86,963.00 L126.84,963.20 L127.82,963.39 L128.80,963.59 L129.78,963.78 L130.76,963.96 L131.74,964.15 L132.72,964.33 L133.70,964.50 L134.67,964.68 L135.65,964.85 L136.63,965.01 L137.61,965.18 L138.59,965.34 L139.57,965.50 L140.55,965.66 L141.53,965.81 L142.51,965.96 L143.49,966.11 L144.46,966.25 L145.44,966.40 L146.42,966.54 L147.40,966.68 L148.38,966.81 L149.36,966.95 L150.34,967.08 L151.32,967.21 L152.30,967.34 L153.28,967.46 L154.25,967.58 L155.23,967.70 L156.21,967.82 L157.19,967.94 L158.17,968.05 L159.15,968.17 L160.13,968.28 L161.11,968.38 L162.09,968.49 L163.07,968.60 L164.04,968.70 L165.02,968.80 L166.00,968.90 L166.98,969.00 L167.96,969.09 L168.94,969.19 L169.92,969.28 L170.90,969.37 L171.88,969.46 L172.86,969.55 L173.83,969.64 L174.81,969.72 L175.79,969.81 L176.77,969.89 L177.75,969.97 L178.73,970.05 L179.71,970.13 L180.69,970.21 L181.67,970.28 L182.65,970.36 L183.62,970.43 L184.60,970.50 L185.58,970.57 L186.56,970.64 L187.54,970.71 L188.52,970.77 L189.50,970.84 L190.48,970.90 L191.46,970.97 L192.44,971.03 L193.41,971.09 L194.39,971.15 L195.37,971.21 L196.35,971.27 L197.33,971.33 L198.31,971.38 L199.29,971.44 L200.27,971.49 L201.25,971.55 L202.23,971.60 L203.20,971.65 L204.18,971.70 L205.16,971.75 L206.14,971.80 L207.12,971.85 L208.10,971.90 L209.08,971.94 L210.06,971.99 L211.04,972.03 L212.02,972.08 L212.99,972.12 L213.97,972.16 L214.95,972.20 L215.93,972.25 L216.91,972.29 L217.89,972.33 L218.87,972.36 L219.85,972.40 L220.83,972.44 L221.81,972.48 L222.78,972.51 L223.76,972.55 L224.74,972.59 L225.72,972.62 L226.70,972.65 L227.68,972.69 L228.66,972.72 L229.64,972.75 L230.62,972.78 L231.60,972.82 L232.57,972.85 L233.55,972.88 L234.53,972.91 L235.51,972.94 L236.49,972.96 L237.47,972.99 L238.45,973.02 L239.43,973.05 L240.41,973.07 L241.39,973.10 L242.36,973.13 L243.34,973.15 L244.32,973.18 L245.30,973.20 L246.28,973.22 L247.26,973.25 L248.24,973.27 L249.22,973.29 L250.20,973.32 L251.18,973.34 L252.15,973.36 L253.13,973.38 L254.11,973.40 L255.09,973.42 L256.07,973.44 L257.05,973.46 L258.03,973.48 L259.01,973.50 L259.99,973.52 L260.96,973.54 L261.94,973.56 L262.92,973.58 L263.90,973.59 L264.88,973.61 L265.86,973.63 L266.84,973.64 L267.82,973.66 L268.80,973.68 L269.78,973.69 L270.75,973.71 L271.73,973.72 L272.71,973.74 L273.69,973.75 L274.67,973.77 L275.65,973.78 L276.63,973.80 L277.61,973.81 L278.59,973.82 L279.57,973.84 L280.55,973.85 L281.52,973.86 L282.50,973.88 L283.48,973.89 L284.46,973.90 L285.44,973.91 L286.42,973.92 L287.40,973.94 L288.38,973.95 L289.36,973.96 L290.34,973.97 L291.31,973.98 L292.29,973.99 L293.27,974.00 L294.25,974.01 L295.23,974.02 L296.21,974.03 L297.19,974.04 L298.17,974.05 L299.15,974.06 L300.12,974.07 L301.10,974.08 L302.08,974.09 L303.06,974.10 L304.04,974.11 L305.02,974.11 L306.00,974.12 L306.98,974.13 L307.96,974.14 L308.94,974.15 L309.92,974.15 L310.89,974.16 L311.87,974.17 L312.85,974.18 L313.83,974.18 L314.81,974.19 L315.79,974.20 L316.77,974.21 L317.75,974.21 L318.73,974.22 L319.71,974.23 L320.68,974.23 L321.66,974.24 L322.64,974.24 L323.62,974.25 L324.60,974.26" fill="none" stroke="#000" stroke-width="2.2" stroke-linejoin="round" clip-path="url(#cp5)"/>
<polygon points="57.45,931.25 56.31,933.45 54.02,933.45 55.17,935.65 54.02,937.85 56.31,937.85 57.45,940.05 58.59,937.85 60.88,937.85 59.74,935.65 60.88,933.45 58.59,933.45" fill="#000" stroke="#000" stroke-width="0.6" stroke-linejoin="round"/>
<polygon points="116.90,956.60 115.75,958.80 113.47,958.80 114.61,961.00 113.47,963.20 115.75,963.20 116.90,965.40 118.04,963.20 120.32,963.20 119.18,961.00 120.32,958.80 118.04,958.80" fill="#000" stroke="#000" stroke-width="0.6" stroke-linejoin="round"/>
<polygon points="176.22,965.44 175.08,967.65 172.79,967.64 173.94,969.84 172.79,972.04 175.08,972.04 176.22,974.24 177.37,972.04 179.65,972.04 178.51,969.84 179.65,967.64 177.37,967.65" fill="#000" stroke="#000" stroke-width="0.6" stroke-linejoin="round"/>
<polygon points="235.61,968.54 234.47,970.74 232.18,970.74 233.32,972.94 232.18,975.14 234.47,975.14 235.61,977.34 236.75,975.14 239.04,975.14 237.89,972.94 239.04,970.74 236.75,970.74" fill="#000" stroke="#000" stroke-width="0.6" stroke-linejoin="round"/>
<polygon points="295.05,969.62 293.91,971.82 291.62,971.82 292.77,974.02 291.62,976.22 293.91,976.22 295.05,978.42 296.20,976.22 298.48,976.22 297.34,974.02 298.48,971.82 296.20,971.82" fill="#000" stroke="#000" stroke-width="0.6" stroke-linejoin="round"/>
<path d="M30.90,841.09 L31.88,843.33 L32.86,845.53 L33.84,847.70 L34.82,849.83 L35.80,851.92 L36.77,853.98 L37.75,856.00 L38.73,857.99 L39.71,859.94 L40.69,861.87 L41.67,863.76 L42.65,865.62 L43.63,867.45 L44.61,869.24 L45.59,871.01 L46.56,872.75 L47.54,874.46 L48.52,876.14 L49.50,877.79 L50.48,879.41 L51.46,881.01 L52.44,882.58 L53.42,884.12 L54.40,885.64 L55.38,887.13 L56.35,888.60 L57.33,890.04 L58.31,891.46 L59.29,892.86 L60.27,894.23 L61.25,895.58 L62.23,896.90 L63.21,898.20 L64.19,899.49 L65.17,900.75 L66.14,901.98 L67.12,903.20 L68.10,904.40 L69.08,905.58 L70.06,906.74 L71.04,907.87 L72.02,908.99 L73.00,910.09 L73.98,911.18 L74.96,912.24 L75.93,913.29 L76.91,914.31 L77.89,915.33 L78.87,916.32 L79.85,917.30 L80.83,918.26 L81.81,919.20 L82.79,920.13 L83.77,921.05 L84.75,921.94 L85.72,922.83 L86.70,923.70 L87.68,924.55 L88.66,925.39 L89.64,926.22 L90.62,927.03 L91.60,927.83 L92.58,928.61 L93.56,929.38 L94.53,930.14 L95.51,930.89 L96.49,931.62 L97.47,932.34 L98.45,933.05 L99.43,933.75 L100.41,934.43 L101.39,935.10 L102.37,935.77 L103.35,936.42 L104.33,937.06 L105.30,937.69 L106.28,938.31 L107.26,938.92 L108.24,939.52 L109.22,940.10 L110.20,940.68 L111.18,941.25 L112.16,941.81 L113.14,942.36 L114.12,942.90 L115.09,943.43 L116.07,943.96 L117.05,944.47 L118.03,944.98 L119.01,945.47 L119.99,945.96 L120.97,946.44 L121.95,946.91 L122.93,947.38 L123.91,947.84 L124.88,948.28 L125.86,948.73 L126.84,949.16 L127.82,949.59 L128.80,950.01 L129.78,950.42 L130.76,950.82 L131.74,951.22 L132.72,951.61 L133.70,952.00 L134.67,952.38 L135.65,952.75 L136.63,953.12 L137.61,953.48 L138.59,953.83 L139.57,954.18 L140.55,954.52 L141.53,954.86 L142.51,955.19 L143.49,955.52 L144.46,955.84 L145.44,956.15 L146.42,956.46 L147.40,956.77 L148.38,957.07 L149.36,957.36 L150.34,957.65 L151.32,957.93 L152.30,958.21 L153.28,958.49 L154.25,958.76 L155.23,959.02 L156.21,959.28 L157.19,959.54 L158.17,959.79 L159.15,960.04 L160.13,960.29 L161.11,960.53 L162.09,960.76 L163.07,961.00 L164.04,961.22 L165.02,961.45 L166.00,961.67 L166.98,961.89 L167.96,962.10 L168.94,962.31 L169.92,962.51 L170.90,962.72 L171.88,962.92 L172.86,963.11 L173.83,963.31 L174.81,963.49 L175.79,963.68 L176.77,963.86 L177.75,964.04 L178.73,964.22 L179.71,964.40 L180.69,964.57 L181.67,964.73 L182.65,964.90 L183.62,965.06 L184.60,965.22 L185.58,965.38 L186.56,965.53 L187.54,965.69 L188.52,965.84 L189.50,965.98 L190.48,966.13 L191.46,966.27 L192.44,966.41 L193.41,966.55 L194.39,966.68 L195.37,966.82 L196.35,966.95 L197.33,967.07 L198.31,967.20 L199.29,967.32 L200.27,967.45 L201.25,967.57 L202.23,967.68 L203.20,967.80 L204.18,967.91 L205.16,968.03 L206.14,968.14 L207.12,968.25 L208.10,968.35 L209.08,968.46 L210.06,968.56 L211.04,968.66 L212.02,968.76 L212.99,968.86 L213.97,968.96 L214.95,969.05 L215.93,969.14 L216.91,969.23 L217.89,969.32 L218.87,969.41 L219.85,969.50 L220.83,969.59 L221.81,969.67 L222.78,969.75 L223.76,969.83 L224.74,969.91 L225.72,969.99 L226.70,970.07 L227.68,970.15 L228.66,970.22 L229.64,970.29 L230.62,970.37 L231.60,970.44 L232.57,970.51 L233.55,970.58 L234.53,970.64 L235.51,970.71 L236.49,970.77 L237.47,970.84 L238.45,970.90 L239.43,970.96 L240.41,971.02 L241.39,971.08 L242.36,971.14 L243.34,971.20 L244.32,971.26 L245.30,971.31 L246.28,971.37 L247.26,971.42 L248.24,971.48 L249.22,971.53 L250.20,971.58 L251.18,971.63 L252.15,971.68 L253.13,971.73 L254.11,971.78 L255.09,971.83 L256.07,971.87 L257.05,971.92 L258.03,971.96 L259.01,972.01 L259.99,972.05 L260.96,972.09 L261.94,972.14 L262.92,972.18 L263.90,972.22 L264.88,972.26 L265.86,972.30 L266.84,972.34 L267.82,972.37 L268.80,972.41 L269.78,972.45 L270.75,972.48 L271.73,972.52 L272.71,972.55 L273.69,972.59 L274.67,972.62 L275.65,972.66 L276.63,972.69 L277.61,972.72 L278.59,972.75 L279.57,972.78 L280.55,972.81 L281.52,972.84 L282.50,972.87 L283.48,972.90 L284.46,972.93 L285.44,972.96 L286.42,972.99 L287.40,973.01 L288.38,973.04 L289.36,973.07 L290.34,973.09 L291.31,973.12 L292.29,973.14 L293.27,973.17 L294.25,973.19 L295.23,973.21 L296.21,973.24 L297.19,973.26 L298.17,973.28 L299.15,973.30 L300.12,973.33 L301.10,973.35 L302.08,973.37 L303.06,973.39 L304.04,973.41 L305.02,973.43 L306.00,973.45 L306.98,973.47 L307.96,973.49 L308.94,973.51 L309.92,973.52 L310.89,973.54 L311.87,973.56 L312.85,973.58 L313.83,973.59 L314.81,973.61 L315.79,973.63 L316.77,973.64 L317.75,973.66 L318.73,973.68 L319.71,973.69 L320.68,973.71 L321.66,973.72 L322.64,973.74 L323.62,973.75 L324.60,973.77" fill="none" stroke="#f00" stroke-width="2.2" stroke-dasharray="6.3 1.3 3.6 1.3" stroke-linejoin="round" clip-path="url(#cp5)"/>
<ellipse cx="57.45" cy="890.21" rx="2.60" ry="3.00" fill="none" stroke="#f00" stroke-width="1.8"/>
<ellipse cx="116.90" cy="944.39" rx="2.60" ry="3.00" fill="none" stroke="#f00" stroke-width="1.8"/>
<ellipse cx="176.22" cy="963.76" rx="2.60" ry="3.00" fill="none" stroke="#f00" stroke-width="1.8"/>
<ellipse cx="235.61" cy="970.72" rx="2.60" ry="3.00" fill="none" stroke="#f00" stroke-width="1.8"/>
<ellipse cx="295.05" cy="973.21" rx="2.60" ry="3.00" fill="none" stroke="#f00" stroke-width="1.8"/>
<path d="M30.90,735.42 L31.88,739.41 L32.86,743.34 L33.84,747.20 L34.82,751.00 L35.80,754.73 L36.77,758.40 L37.75,762.01 L38.73,765.56 L39.71,769.04 L40.69,772.48 L41.67,775.85 L42.65,779.17 L43.63,782.43 L44.61,785.64 L45.59,788.79 L46.56,791.89 L47.54,794.94 L48.52,797.94 L49.50,800.89 L50.48,803.79 L51.46,806.64 L52.44,809.45 L53.42,812.20 L54.40,814.91 L55.38,817.58 L56.35,820.20 L57.33,822.78 L58.31,825.31 L59.29,827.80 L60.27,830.25 L61.25,832.66 L62.23,835.03 L63.21,837.36 L64.19,839.65 L65.17,841.91 L66.14,844.12 L67.12,846.30 L68.10,848.44 L69.08,850.55 L70.06,852.62 L71.04,854.65 L72.02,856.66 L73.00,858.62 L73.98,860.56 L74.96,862.46 L75.93,864.34 L76.91,866.18 L77.89,867.99 L78.87,869.77 L79.85,871.52 L80.83,873.24 L81.81,874.93 L82.79,876.59 L83.77,878.23 L84.75,879.84 L85.72,881.42 L86.70,882.97 L87.68,884.50 L88.66,886.01 L89.64,887.49 L90.62,888.94 L91.60,890.37 L92.58,891.78 L93.56,893.16 L94.53,894.52 L95.51,895.86 L96.49,897.17 L97.47,898.46 L98.45,899.73 L99.43,900.98 L100.41,902.21 L101.39,903.42 L102.37,904.61 L103.35,905.78 L104.33,906.93 L105.30,908.05 L106.28,909.17 L107.26,910.26 L108.24,911.33 L109.22,912.39 L110.20,913.43 L111.18,914.45 L112.16,915.45 L113.14,916.44 L114.12,917.41 L115.09,918.36 L116.07,919.30 L117.05,920.23 L118.03,921.13 L119.01,922.03 L119.99,922.90 L120.97,923.77 L121.95,924.62 L122.93,925.45 L123.91,926.27 L124.88,927.08 L125.86,927.87 L126.84,928.65 L127.82,929.42 L128.80,930.17 L129.78,930.91 L130.76,931.64 L131.74,932.36 L132.72,933.06 L133.70,933.76 L134.67,934.44 L135.65,935.11 L136.63,935.77 L137.61,936.42 L138.59,937.05 L139.57,937.68 L140.55,938.30 L141.53,938.90 L142.51,939.50 L143.49,940.09 L144.46,940.66 L145.44,941.23 L146.42,941.79 L147.40,942.33 L148.38,942.87 L149.36,943.40 L150.34,943.92 L151.32,944.43 L152.30,944.94 L153.28,945.43 L154.25,945.92 L155.23,946.40 L156.21,946.87 L157.19,947.33 L158.17,947.79 L159.15,948.23 L160.13,948.67 L161.11,949.11 L162.09,949.53 L163.07,949.95 L164.04,950.36 L165.02,950.77 L166.00,951.17 L166.98,951.56 L167.96,951.94 L168.94,952.32 L169.92,952.69 L170.90,953.06 L171.88,953.42 L172.86,953.77 L173.83,954.12 L174.81,954.46 L175.79,954.80 L176.77,955.13 L177.75,955.45 L178.73,955.77 L179.71,956.09 L180.69,956.39 L181.67,956.70 L182.65,957.00 L183.62,957.29 L184.60,957.58 L185.58,957.86 L186.56,958.14 L187.54,958.42 L188.52,958.69 L189.50,958.95 L190.48,959.22 L191.46,959.47 L192.44,959.72 L193.41,959.97 L194.39,960.22 L195.37,960.46 L196.35,960.69 L197.33,960.93 L198.31,961.15 L199.29,961.38 L200.27,961.60 L201.25,961.82 L202.23,962.03 L203.20,962.24 L204.18,962.45 L205.16,962.65 L206.14,962.85 L207.12,963.04 L208.10,963.24 L209.08,963.43 L210.06,963.61 L211.04,963.80 L212.02,963.98 L212.99,964.15 L213.97,964.33 L214.95,964.50 L215.93,964.67 L216.91,964.83 L217.89,965.00 L218.87,965.16 L219.85,965.32 L220.83,965.47 L221.81,965.62 L222.78,965.77 L223.76,965.92 L224.74,966.06 L225.72,966.21 L226.70,966.35 L227.68,966.48 L228.66,966.62 L229.64,966.75 L230.62,966.88 L231.60,967.01 L232.57,967.14 L233.55,967.26 L234.53,967.39 L235.51,967.51 L236.49,967.63 L237.47,967.74 L238.45,967.86 L239.43,967.97 L240.41,968.08 L241.39,968.19 L242.36,968.30 L243.34,968.40 L244.32,968.50 L245.30,968.61 L246.28,968.71 L247.26,968.80 L248.24,968.90 L249.22,969.00 L250.20,969.09 L251.18,969.18 L252.15,969.27 L253.13,969.36 L254.11,969.45 L255.09,969.53 L256.07,969.62 L257.05,969.70 L258.03,969.78 L259.01,969.86 L259.99,969.94 L260.96,970.02 L261.94,970.10 L262.92,970.17 L263.90,970.25 L264.88,970.32 L265.86,970.39 L266.84,970.46 L267.82,970.53 L268.80,970.60 L269.78,970.67 L270.75,970.73 L271.73,970.80 L272.71,970.86 L273.69,970.92 L274.67,970.98 L275.65,971.04 L276.63,971.10 L277.61,971.16 L278.59,971.22 L279.57,971.27 L280.55,971.33 L281.52,971.38 L282.50,971.44 L283.48,971.49 L284.46,971.54 L285.44,971.59 L286.42,971.64 L287.40,971.69 L288.38,971.74 L289.36,971.79 L290.34,971.84 L291.31,971.88 L292.29,971.93 L293.27,971.97 L294.25,972.02 L295.23,972.06 L296.21,972.10 L297.19,972.14 L298.17,972.18 L299.15,972.23 L300.12,972.26 L301.10,972.30 L302.08,972.34 L303.06,972.38 L304.04,972.42 L305.02,972.45 L306.00,972.49 L306.98,972.52 L307.96,972.56 L308.94,972.59 L309.92,972.63 L310.89,972.66 L311.87,972.69 L312.85,972.72 L313.83,972.76 L314.81,972.79 L315.79,972.82 L316.77,972.85 L317.75,972.88 L318.73,972.90 L319.71,972.93 L320.68,972.96 L321.66,972.99 L322.64,973.01 L323.62,973.04 L324.60,973.07" fill="none" stroke="#00f" stroke-width="2.3" stroke-dasharray="7.3 5.4" stroke-linejoin="round" clip-path="url(#cp5)"/>
<polygon points="57.45,818.48 60.45,823.08 57.45,827.68 54.45,823.08" fill="none" stroke="#00f" stroke-width="1.9" stroke-linejoin="round"/>
<polygon points="116.90,915.48 119.90,920.08 116.90,924.68 113.90,920.08" fill="none" stroke="#00f" stroke-width="1.9" stroke-linejoin="round"/>
<polygon points="176.22,950.34 179.22,954.94 176.22,959.54 173.22,954.94" fill="none" stroke="#00f" stroke-width="1.9" stroke-linejoin="round"/>
<polygon points="235.61,962.92 238.61,967.52 235.61,972.12 232.61,967.52" fill="none" stroke="#00f" stroke-width="1.9" stroke-linejoin="round"/>
<polygon points="295.05,967.45 298.05,972.05 295.05,976.65 292.05,972.05" fill="none" stroke="#00f" stroke-width="1.9" stroke-linejoin="round"/>
<rect x="261.10" y="728.80" width="56.40" height="39.70" fill="#fff" stroke="#999" stroke-width="1.1"/>
<line x1="263.90" y1="736.34" x2="290.60" y2="736.34" stroke="#000" stroke-width="2.2"/>
<polygon points="277.25,731.94 276.11,734.14 273.82,734.14 274.96,736.34 273.82,738.54 276.11,738.54 277.25,740.74 278.39,738.54 280.68,738.54 279.53,736.34 280.68,734.14 278.39,734.14" fill="#000" stroke="#000" stroke-width="0.6" stroke-linejoin="round"/>
<text class="t" transform="translate(292.68 739.94) scale(0.769 1)" font-size="10" fill="#333333"><tspan font-family="Liberation Serif" font-size="10.5">&#937;</tspan>=0</text>
<line x1="263.90" y1="748.65" x2="290.60" y2="748.65" stroke="#f00" stroke-width="2.2" stroke-dasharray="6.3 1.3 3.6 1.3" stroke-dashoffset="0.6"/>
<ellipse cx="277.25" cy="748.65" rx="2.60" ry="3.00" fill="none" stroke="#f00" stroke-width="1.8"/>
<text class="t" transform="translate(292.68 752.25) scale(0.769 1)" font-size="10" fill="#333333"><tspan font-family="Liberation Serif" font-size="10.5">&#937;</tspan>=0.7</text>
<line x1="263.90" y1="761.16" x2="290.60" y2="761.16" stroke="#00f" stroke-width="2.3" stroke-dasharray="7.3 5.4" stroke-dashoffset="1.6"/>
<polygon points="277.25,756.56 280.25,761.16 277.25,765.76 274.25,761.16" fill="none" stroke="#00f" stroke-width="1.9" stroke-linejoin="round"/>
<text class="t" transform="translate(292.68 764.76) scale(0.769 1)" font-size="10" fill="#333333"><tspan font-family="Liberation Serif" font-size="10.5">&#937;</tspan>=0.8</text>
<g transform="translate(9.0 848.4) rotate(-90)" class="t" fill="#333333"><text text-anchor="middle" font-size="11" font-family="Liberation Serif" font-style="italic">&#952;</text></g>
<clipPath id="cp6"><rect x="405.50" y="720.60" width="269.60" height="257.50"/></clipPath>
<g stroke="#8a8a8a" stroke-width="1.1"><rect x="405.50" y="723.60" width="269.60" height="251.50" fill="none" stroke="#8a8a8a" stroke-width="1.3"/><line x1="405.50" y1="975.10" x2="405.50" y2="972.10"/><line x1="405.50" y1="723.60" x2="405.50" y2="726.60"/><line x1="432.46" y1="975.10" x2="432.46" y2="972.10"/><line x1="432.46" y1="723.60" x2="432.46" y2="726.60"/><line x1="459.42" y1="975.10" x2="459.42" y2="972.10"/><line x1="459.42" y1="723.60" x2="459.42" y2="726.60"/><line x1="486.38" y1="975.10" x2="486.38" y2="972.10"/><line x1="486.38" y1="723.60" x2="486.38" y2="726.60"/><line x1="513.34" y1="975.10" x2="513.34" y2="972.10"/><line x1="513.34" y1="723.60" x2="513.34" y2="726.60"/><line x1="540.30" y1="975.10" x2="540.30" y2="972.10"/><line x1="540.30" y1="723.60" x2="540.30" y2="726.60"/><line x1="567.26" y1="975.10" x2="567.26" y2="972.10"/><line x1="567.26" y1="723.60" x2="567.26" y2="726.60"/><line x1="594.22" y1="975.10" x2="594.22" y2="972.10"/><line x1="594.22" y1="723.60" x2="594.22" y2="726.60"/><line x1="621.18" y1="975.10" x2="621.18" y2="972.10"/><line x1="621.18" y1="723.60" x2="621.18" y2="726.60"/><line x1="648.14" y1="975.10" x2="648.14" y2="972.10"/><line x1="648.14" y1="723.60" x2="648.14" y2="726.60"/><line x1="675.10" y1="975.10" x2="675.10" y2="972.10"/><line x1="675.10" y1="723.60" x2="675.10" y2="726.60"/><line x1="405.50" y1="975.10" x2="408.50" y2="975.10"/><line x1="675.10" y1="975.10" x2="672.10" y2="975.10"/><line x1="405.50" y1="933.18" x2="408.50" y2="933.18"/><line x1="675.10" y1="933.18" x2="672.10" y2="933.18"/><line x1="405.50" y1="891.27" x2="408.50" y2="891.27"/><line x1="675.10" y1="891.27" x2="672.10" y2="891.27"/><line x1="405.50" y1="849.35" x2="408.50" y2="849.35"/><line x1="675.10" y1="849.35" x2="672.10" y2="849.35"/><line x1="405.50" y1="807.43" x2="408.50" y2="807.43"/><line x1="675.10" y1="807.43" x2="672.10" y2="807.43"/><line x1="405.50" y1="765.52" x2="408.50" y2="765.52"/><line x1="675.10" y1="765.52" x2="672.10" y2="765.52"/><line x1="405.50" y1="723.60" x2="408.50" y2="723.60"/><line x1="675.10" y1="723.60" x2="672.10" y2="723.60"/></g>
<g class="t" font-size="10.5" fill="#333333"><text transform="translate(405.50 989.80) scale(0.771 0.931)" text-anchor="middle">0</text><text transform="translate(432.46 989.80) scale(0.771 0.931)" text-anchor="middle">0.5</text><text transform="translate(459.42 989.80) scale(0.771 0.931)" text-anchor="middle">1</text><text transform="translate(486.38 989.80) scale(0.771 0.931)" text-anchor="middle">1.5</text><text transform="translate(513.34 989.80) scale(0.771 0.931)" text-anchor="middle">2</text><text transform="translate(540.30 989.80) scale(0.771 0.931)" text-anchor="middle">2.5</text><text transform="translate(567.26 989.80) scale(0.771 0.931)" text-anchor="middle">3</text><text transform="translate(594.22 989.80) scale(0.771 0.931)" text-anchor="middle">3.5</text><text transform="translate(621.18 989.80) scale(0.771 0.931)" text-anchor="middle">4</text><text transform="translate(648.14 989.80) scale(0.771 0.931)" text-anchor="middle">4.5</text><text transform="translate(675.10 989.80) scale(0.771 0.931)" text-anchor="middle">5</text><text transform="translate(401.00 979.25) scale(0.771 0.931)" text-anchor="end">-6</text><text transform="translate(401.00 937.33) scale(0.771 0.931)" text-anchor="end">-4</text><text transform="translate(401.00 895.42) scale(0.771 0.931)" text-anchor="end">-2</text><text transform="translate(401.00 853.50) scale(0.771 0.931)" text-anchor="end">0</text><text transform="translate(401.00 811.58) scale(0.771 0.931)" text-anchor="end">2</text><text transform="translate(401.00 769.67) scale(0.771 0.931)" text-anchor="end">4</text><text transform="translate(401.00 727.75) scale(0.771 0.931)" text-anchor="end">6</text><text transform="translate(540.30 1003.61) scale(0.771 0.931)" text-anchor="middle">x</text></g>
<path d="M405.50,848.96 L406.40,850.92 L407.30,852.88 L408.20,854.85 L409.09,856.80 L409.99,858.76 L410.89,860.70 L411.79,862.65 L412.69,864.58 L413.59,866.50 L414.49,868.42 L415.39,870.32 L416.28,872.22 L417.18,874.09 L418.08,875.96 L418.98,877.81 L419.88,879.64 L420.78,881.46 L421.68,883.26 L422.57,885.04 L423.47,886.80 L424.37,888.54 L425.27,890.26 L426.17,891.95 L427.07,893.62 L427.97,895.26 L428.87,896.88 L429.76,898.48 L430.66,900.04 L431.56,901.58 L432.46,903.08 L433.36,904.56 L434.26,906.00 L435.16,907.42 L436.05,908.80 L436.95,910.15 L437.85,911.46 L438.75,912.74 L439.65,913.98 L440.55,915.19 L441.45,916.36 L442.35,917.49 L443.24,918.59 L444.14,919.64 L445.04,920.66 L445.94,921.64 L446.84,922.57 L447.74,923.47 L448.64,924.32 L449.53,925.13 L450.43,925.90 L451.33,926.63 L452.23,927.31 L453.13,927.95 L454.03,928.54 L454.93,929.09 L455.83,929.60 L456.72,930.06 L457.62,930.48 L458.52,930.85 L459.42,931.17 L460.32,931.45 L461.22,931.69 L462.12,931.87 L463.01,932.01 L463.91,932.11 L464.81,932.16 L465.71,932.16 L466.61,932.12 L467.51,932.03 L468.41,931.89 L469.31,931.71 L470.20,931.48 L471.10,931.20 L472.00,930.88 L472.90,930.52 L473.80,930.10 L474.70,929.65 L475.60,929.15 L476.49,928.60 L477.39,928.01 L478.29,927.38 L479.19,926.70 L480.09,925.98 L480.99,925.21 L481.89,924.41 L482.79,923.56 L483.68,922.67 L484.58,921.74 L485.48,920.77 L486.38,919.76 L487.28,918.70 L488.18,917.62 L489.08,916.49 L489.97,915.32 L490.87,914.12 L491.77,912.88 L492.67,911.61 L493.57,910.30 L494.47,908.96 L495.37,907.58 L496.27,906.18 L497.16,904.74 L498.06,903.27 L498.96,901.77 L499.86,900.24 L500.76,898.68 L501.66,897.09 L502.56,895.48 L503.45,893.84 L504.35,892.18 L505.25,890.49 L506.15,888.78 L507.05,887.05 L507.95,885.29 L508.85,883.52 L509.75,881.73 L510.64,879.92 L511.54,878.09 L512.44,876.25 L513.34,874.39 L514.24,872.52 L515.14,870.63 L516.04,868.74 L516.93,866.83 L517.83,864.91 L518.73,862.98 L519.63,861.05 L520.53,859.11 L521.43,857.16 L522.33,855.21 L523.23,853.26 L524.12,851.30 L525.02,849.35 L525.92,847.39 L526.82,845.43 L527.72,843.48 L528.62,841.53 L529.52,839.59 L530.41,837.65 L531.31,835.71 L532.21,833.79 L533.11,831.87 L534.01,829.96 L534.91,828.06 L535.81,826.18 L536.71,824.31 L537.60,822.45 L538.50,820.61 L539.40,818.78 L540.30,816.97 L541.20,815.18 L542.10,813.41 L543.00,811.65 L543.89,809.92 L544.79,808.21 L545.69,806.53 L546.59,804.86 L547.49,803.23 L548.39,801.61 L549.29,800.03 L550.19,798.47 L551.08,796.94 L551.98,795.44 L552.88,793.97 L553.78,792.53 L554.68,791.12 L555.58,789.75 L556.48,788.41 L557.37,787.10 L558.27,785.83 L559.17,784.59 L560.07,783.39 L560.97,782.22 L561.87,781.10 L562.77,780.01 L563.67,778.96 L564.56,777.95 L565.46,776.97 L566.36,776.04 L567.26,775.15 L568.16,774.30 L569.06,773.50 L569.96,772.73 L570.85,772.01 L571.75,771.33 L572.65,770.70 L573.55,770.10 L574.45,769.56 L575.35,769.05 L576.25,768.60 L577.15,768.18 L578.04,767.82 L578.94,767.49 L579.84,767.22 L580.74,766.99 L581.64,766.80 L582.54,766.66 L583.44,766.57 L584.33,766.52 L585.23,766.52 L586.13,766.57 L587.03,766.66 L587.93,766.79 L588.83,766.98 L589.73,767.21 L590.63,767.48 L591.52,767.80 L592.42,768.17 L593.32,768.58 L594.22,769.04 L595.12,769.54 L596.02,770.08 L596.92,770.67 L597.81,771.31 L598.71,771.98 L599.61,772.70 L600.51,773.46 L601.41,774.27 L602.31,775.12 L603.21,776.00 L604.11,776.93 L605.00,777.90 L605.90,778.91 L606.80,779.96 L607.70,781.04 L608.60,782.17 L609.50,783.33 L610.40,784.53 L611.29,785.76 L612.19,787.03 L613.09,788.34 L613.99,789.67 L614.89,791.04 L615.79,792.45 L616.69,793.88 L617.59,795.35 L618.48,796.85 L619.38,798.37 L620.28,799.92 L621.18,801.50 L622.08,803.11 L622.98,804.75 L623.88,806.40 L624.77,808.08 L625.67,809.79 L626.57,811.51 L627.47,813.26 L628.37,815.03 L629.27,816.81 L630.17,818.62 L631.07,820.44 L631.96,822.28 L632.86,824.13 L633.76,825.99 L634.66,827.87 L635.56,829.76 L636.46,831.66 L637.36,833.57 L638.25,835.49 L639.15,837.42 L640.05,839.35 L640.95,841.29 L641.85,843.23 L642.75,845.18 L643.65,847.13 L644.55,849.08 L645.44,851.03 L646.34,852.98 L647.24,854.92 L648.14,856.86 L649.04,858.80 L649.94,860.73 L650.84,862.66 L651.73,864.58 L652.63,866.49 L653.53,868.39 L654.43,870.28 L655.33,872.16 L656.23,874.02 L657.13,875.87 L658.03,877.71 L658.92,879.53 L659.82,881.33 L660.72,883.11 L661.62,884.88 L662.52,886.62 L663.42,888.35 L664.32,890.05 L665.21,891.73 L666.11,893.38 L667.01,895.01 L667.91,896.62 L668.81,898.20 L669.71,899.75 L670.61,901.27 L671.51,902.77 L672.40,904.23 L673.30,905.66 L674.20,907.06 L675.10,908.43" fill="none" stroke="#000" stroke-width="2.2" stroke-linejoin="round" clip-path="url(#cp6)"/>
<polygon points="429.87,894.26 428.73,896.47 426.44,896.46 427.59,898.66 426.44,900.86 428.73,900.86 429.87,903.06 431.01,900.86 433.30,900.86 432.16,898.66 433.30,896.46 431.01,896.47" fill="#000" stroke="#000" stroke-width="0.6" stroke-linejoin="round"/>
<polygon points="484.44,917.49 483.30,919.69 481.01,919.69 482.15,921.89 481.01,924.09 483.30,924.09 484.44,926.29 485.58,924.09 487.87,924.09 486.72,921.89 487.87,919.69 485.58,919.69" fill="#000" stroke="#000" stroke-width="0.6" stroke-linejoin="round"/>
<polygon points="538.90,815.40 537.76,817.60 535.47,817.60 536.61,819.80 535.47,822.00 537.76,822.00 538.90,824.20 540.04,822.00 542.33,822.00 541.18,819.80 542.33,817.60 540.04,817.60" fill="#000" stroke="#000" stroke-width="0.6" stroke-linejoin="round"/>
<polygon points="593.41,764.22 592.27,766.43 589.98,766.42 591.13,768.62 589.98,770.82 592.27,770.82 593.41,773.02 594.55,770.82 596.84,770.82 595.70,768.62 596.84,766.42 594.55,766.43" fill="#000" stroke="#000" stroke-width="0.6" stroke-linejoin="round"/>
<polygon points="647.98,852.11 646.84,854.32 644.55,854.31 645.69,856.51 644.55,858.71 646.84,858.71 647.98,860.91 649.12,858.71 651.41,858.71 650.26,856.51 651.41,854.31 649.12,854.32" fill="#000" stroke="#000" stroke-width="0.6" stroke-linejoin="round"/>
<path d="M405.50,848.04 L406.40,850.36 L407.30,852.67 L408.20,854.99 L409.09,857.30 L409.99,859.61 L410.89,861.91 L411.79,864.21 L412.69,866.49 L413.59,868.77 L414.49,871.04 L415.39,873.29 L416.28,875.53 L417.18,877.76 L418.08,879.97 L418.98,882.16 L419.88,884.34 L420.78,886.49 L421.68,888.63 L422.57,890.74 L423.47,892.83 L424.37,894.89 L425.27,896.93 L426.17,898.94 L427.07,900.93 L427.97,902.89 L428.87,904.81 L429.76,906.71 L430.66,908.57 L431.56,910.40 L432.46,912.20 L433.36,913.96 L434.26,915.69 L435.16,917.37 L436.05,919.02 L436.95,920.64 L437.85,922.21 L438.75,923.74 L439.65,925.23 L440.55,926.68 L441.45,928.08 L442.35,929.44 L443.24,930.76 L444.14,932.03 L445.04,933.25 L445.94,934.43 L446.84,935.56 L447.74,936.64 L448.64,937.68 L449.53,938.66 L450.43,939.60 L451.33,940.48 L452.23,941.32 L453.13,942.10 L454.03,942.83 L454.93,943.51 L455.83,944.14 L456.72,944.71 L457.62,945.23 L458.52,945.70 L459.42,946.11 L460.32,946.47 L461.22,946.78 L462.12,947.03 L463.01,947.23 L463.91,947.37 L464.81,947.46 L465.71,947.50 L466.61,947.48 L467.51,947.40 L468.41,947.27 L469.31,947.09 L470.20,946.85 L471.10,946.56 L472.00,946.21 L472.90,945.81 L473.80,945.35 L474.70,944.85 L475.60,944.29 L476.49,943.67 L477.39,943.01 L478.29,942.29 L479.19,941.52 L480.09,940.70 L480.99,939.83 L481.89,938.90 L482.79,937.93 L483.68,936.91 L484.58,935.84 L485.48,934.72 L486.38,933.56 L487.28,932.35 L488.18,931.09 L489.08,929.79 L489.97,928.44 L490.87,927.05 L491.77,925.61 L492.67,924.13 L493.57,922.61 L494.47,921.05 L495.37,919.45 L496.27,917.82 L497.16,916.14 L498.06,914.42 L498.96,912.67 L499.86,910.89 L500.76,909.07 L501.66,907.22 L502.56,905.33 L503.45,903.42 L504.35,901.47 L505.25,899.50 L506.15,897.50 L507.05,895.47 L507.95,893.41 L508.85,891.33 L509.75,889.23 L510.64,887.11 L511.54,884.96 L512.44,882.80 L513.34,880.61 L514.24,878.41 L515.14,876.20 L516.04,873.97 L516.93,871.72 L517.83,869.46 L518.73,867.19 L519.63,864.92 L520.53,862.63 L521.43,860.33 L522.33,858.03 L523.23,855.73 L524.12,853.42 L525.02,851.11 L525.92,848.80 L526.82,846.48 L527.72,844.18 L528.62,841.87 L529.52,839.57 L530.41,837.27 L531.31,834.98 L532.21,832.70 L533.11,830.42 L534.01,828.16 L534.91,825.91 L535.81,823.67 L536.71,821.45 L537.60,819.24 L538.50,817.05 L539.40,814.88 L540.30,812.73 L541.20,810.60 L542.10,808.48 L543.00,806.40 L543.89,804.33 L544.79,802.29 L545.69,800.28 L546.59,798.29 L547.49,796.34 L548.39,794.41 L549.29,792.51 L550.19,790.65 L551.08,788.81 L551.98,787.01 L552.88,785.25 L553.78,783.52 L554.68,781.83 L555.58,780.18 L556.48,778.56 L557.37,776.98 L558.27,775.45 L559.17,773.95 L560.07,772.50 L560.97,771.09 L561.87,769.72 L562.77,768.40 L563.67,767.12 L564.56,765.89 L565.46,764.71 L566.36,763.57 L567.26,762.48 L568.16,761.44 L569.06,760.44 L569.96,759.50 L570.85,758.61 L571.75,757.76 L572.65,756.97 L573.55,756.23 L574.45,755.54 L575.35,754.90 L576.25,754.32 L577.15,753.79 L578.04,753.31 L578.94,752.88 L579.84,752.51 L580.74,752.20 L581.64,751.93 L582.54,751.72 L583.44,751.57 L584.33,751.47 L585.23,751.42 L586.13,751.43 L587.03,751.49 L587.93,751.61 L588.83,751.78 L589.73,752.01 L590.63,752.29 L591.52,752.62 L592.42,753.01 L593.32,753.45 L594.22,753.94 L595.12,754.49 L596.02,755.09 L596.92,755.74 L597.81,756.44 L598.71,757.20 L599.61,758.01 L600.51,758.87 L601.41,759.77 L602.31,760.73 L603.21,761.74 L604.11,762.79 L605.00,763.90 L605.90,765.05 L606.80,766.25 L607.70,767.49 L608.60,768.78 L609.50,770.11 L610.40,771.49 L611.29,772.91 L612.19,774.38 L613.09,775.88 L613.99,777.43 L614.89,779.01 L615.79,780.64 L616.69,782.30 L617.59,784.00 L618.48,785.74 L619.38,787.51 L620.28,789.32 L621.18,791.16 L622.08,793.03 L622.98,794.93 L623.88,796.87 L624.77,798.83 L625.67,800.82 L626.57,802.83 L627.47,804.88 L628.37,806.94 L629.27,809.04 L630.17,811.15 L631.07,813.28 L631.96,815.44 L632.86,817.61 L633.76,819.80 L634.66,822.01 L635.56,824.23 L636.46,826.46 L637.36,828.71 L638.25,830.97 L639.15,833.24 L640.05,835.52 L640.95,837.81 L641.85,840.10 L642.75,842.40 L643.65,844.70 L644.55,847.00 L645.44,849.31 L646.34,851.61 L647.24,853.92 L648.14,856.22 L649.04,858.51 L649.94,860.80 L650.84,863.09 L651.73,865.37 L652.63,867.64 L653.53,869.89 L654.43,872.14 L655.33,874.37 L656.23,876.59 L657.13,878.80 L658.03,880.99 L658.92,883.16 L659.82,885.31 L660.72,887.44 L661.62,889.55 L662.52,891.64 L663.42,893.70 L664.32,895.74 L665.21,897.75 L666.11,899.74 L667.01,901.70 L667.91,903.62 L668.81,905.52 L669.71,907.39 L670.61,909.22 L671.51,911.03 L672.40,912.79 L673.30,914.52 L674.20,916.22 L675.10,917.88" fill="none" stroke="#f00" stroke-width="2.2" stroke-dasharray="6.3 1.3 3.6 1.3" stroke-linejoin="round" clip-path="url(#cp6)"/>
<ellipse cx="429.87" cy="906.93" rx="2.60" ry="3.00" fill="none" stroke="#f00" stroke-width="1.8"/>
<ellipse cx="484.44" cy="936.02" rx="2.60" ry="3.00" fill="none" stroke="#f00" stroke-width="1.8"/>
<ellipse cx="538.90" cy="816.10" rx="2.60" ry="3.00" fill="none" stroke="#f00" stroke-width="1.8"/>
<ellipse cx="593.41" cy="753.49" rx="2.60" ry="3.00" fill="none" stroke="#f00" stroke-width="1.8"/>
<ellipse cx="647.98" cy="855.80" rx="2.60" ry="3.00" fill="none" stroke="#f00" stroke-width="1.8"/>
<path d="M405.50,848.76 L406.40,851.33 L407.30,853.90 L408.20,856.46 L409.09,859.02 L409.99,861.58 L410.89,864.12 L411.79,866.66 L412.69,869.19 L413.59,871.71 L414.49,874.21 L415.39,876.70 L416.28,879.18 L417.18,881.64 L418.08,884.08 L418.98,886.50 L419.88,888.90 L420.78,891.28 L421.68,893.63 L422.57,895.96 L423.47,898.27 L424.37,900.54 L425.27,902.79 L426.17,905.01 L427.07,907.20 L427.97,909.35 L428.87,911.47 L429.76,913.56 L430.66,915.61 L431.56,917.62 L432.46,919.60 L433.36,921.54 L434.26,923.43 L435.16,925.29 L436.05,927.10 L436.95,928.87 L437.85,930.59 L438.75,932.27 L439.65,933.91 L440.55,935.49 L441.45,937.03 L442.35,938.52 L443.24,939.96 L444.14,941.35 L445.04,942.69 L445.94,943.98 L446.84,945.21 L447.74,946.39 L448.64,947.52 L449.53,948.59 L450.43,949.61 L451.33,950.57 L452.23,951.47 L453.13,952.32 L454.03,953.11 L454.93,953.84 L455.83,954.52 L456.72,955.13 L457.62,955.69 L458.52,956.19 L459.42,956.63 L460.32,957.01 L461.22,957.33 L462.12,957.59 L463.01,957.79 L463.91,957.92 L464.81,958.00 L465.71,958.02 L466.61,957.98 L467.51,957.88 L468.41,957.71 L469.31,957.49 L470.20,957.20 L471.10,956.86 L472.00,956.46 L472.90,956.00 L473.80,955.47 L474.70,954.89 L475.60,954.25 L476.49,953.55 L477.39,952.80 L478.29,951.98 L479.19,951.11 L480.09,950.19 L480.99,949.20 L481.89,948.16 L482.79,947.07 L483.68,945.92 L484.58,944.72 L485.48,943.47 L486.38,942.16 L487.28,940.80 L488.18,939.39 L489.08,937.93 L489.97,936.42 L490.87,934.86 L491.77,933.26 L492.67,931.61 L493.57,929.91 L494.47,928.17 L495.37,926.38 L496.27,924.55 L497.16,922.68 L498.06,920.77 L498.96,918.82 L499.86,916.83 L500.76,914.80 L501.66,912.74 L502.56,910.64 L503.45,908.51 L504.35,906.34 L505.25,904.14 L506.15,901.91 L507.05,899.66 L507.95,897.37 L508.85,895.06 L509.75,892.72 L510.64,890.36 L511.54,887.97 L512.44,885.57 L513.34,883.14 L514.24,880.69 L515.14,878.23 L516.04,875.75 L516.93,873.26 L517.83,870.75 L518.73,868.23 L519.63,865.70 L520.53,863.16 L521.43,860.62 L522.33,858.06 L523.23,855.50 L524.12,852.94 L525.02,850.38 L525.92,847.81 L526.82,845.25 L527.72,842.69 L528.62,840.13 L529.52,837.58 L530.41,835.03 L531.31,832.49 L532.21,829.96 L533.11,827.44 L534.01,824.93 L534.91,822.44 L535.81,819.96 L536.71,817.50 L537.60,815.05 L538.50,812.63 L539.40,810.22 L540.30,807.84 L541.20,805.47 L542.10,803.14 L543.00,800.82 L543.89,798.54 L544.79,796.28 L545.69,794.05 L546.59,791.86 L547.49,789.69 L548.39,787.56 L549.29,785.46 L550.19,783.39 L551.08,781.37 L551.98,779.38 L552.88,777.43 L553.78,775.52 L554.68,773.65 L555.58,771.82 L556.48,770.03 L557.37,768.29 L558.27,766.59 L559.17,764.94 L560.07,763.34 L560.97,761.78 L561.87,760.27 L562.77,758.81 L563.67,757.40 L564.56,756.04 L565.46,754.74 L566.36,753.48 L567.26,752.28 L568.16,751.13 L569.06,750.04 L569.96,749.00 L570.85,748.01 L571.75,747.09 L572.65,746.21 L573.55,745.40 L574.45,744.64 L575.35,743.95 L576.25,743.31 L577.15,742.72 L578.04,742.20 L578.94,741.74 L579.84,741.33 L580.74,740.99 L581.64,740.70 L582.54,740.48 L583.44,740.31 L584.33,740.21 L585.23,740.17 L586.13,740.18 L587.03,740.26 L587.93,740.40 L588.83,740.60 L589.73,740.85 L590.63,741.17 L591.52,741.55 L592.42,741.98 L593.32,742.48 L594.22,743.04 L595.12,743.65 L596.02,744.32 L596.92,745.05 L597.81,745.84 L598.71,746.69 L599.61,747.59 L600.51,748.55 L601.41,749.56 L602.31,750.63 L603.21,751.75 L604.11,752.93 L605.00,754.16 L605.90,755.44 L606.80,756.78 L607.70,758.16 L608.60,759.60 L609.50,761.09 L610.40,762.62 L611.29,764.20 L612.19,765.83 L613.09,767.51 L613.99,769.23 L614.89,770.99 L615.79,772.80 L616.69,774.65 L617.59,776.54 L618.48,778.48 L619.38,780.45 L620.28,782.46 L621.18,784.50 L622.08,786.58 L622.98,788.70 L623.88,790.85 L624.77,793.03 L625.67,795.24 L626.57,797.48 L627.47,799.75 L628.37,802.05 L629.27,804.38 L630.17,806.73 L631.07,809.10 L631.96,811.49 L632.86,813.91 L633.76,816.34 L634.66,818.79 L635.56,821.26 L636.46,823.75 L637.36,826.25 L638.25,828.76 L639.15,831.28 L640.05,833.81 L640.95,836.35 L641.85,838.90 L642.75,841.45 L643.65,844.01 L644.55,846.57 L645.44,849.13 L646.34,851.69 L647.24,854.25 L648.14,856.81 L649.04,859.36 L649.94,861.91 L650.84,864.45 L651.73,866.98 L652.63,869.50 L653.53,872.01 L654.43,874.50 L655.33,876.98 L656.23,879.45 L657.13,881.90 L658.03,884.33 L658.92,886.74 L659.82,889.14 L660.72,891.50 L661.62,893.85 L662.52,896.17 L663.42,898.46 L664.32,900.73 L665.21,902.97 L666.11,905.18 L667.01,907.35 L667.91,909.50 L668.81,911.61 L669.71,913.68 L670.61,915.72 L671.51,917.73 L672.40,919.69 L673.30,921.62 L674.20,923.50 L675.10,925.35" fill="none" stroke="#00f" stroke-width="2.3" stroke-dasharray="7.3 5.4" stroke-linejoin="round" clip-path="url(#cp6)"/>
<polygon points="429.87,909.21 432.87,913.81 429.87,918.41 426.87,913.81" fill="none" stroke="#00f" stroke-width="1.9" stroke-linejoin="round"/>
<polygon points="484.44,940.32 487.44,944.92 484.44,949.52 481.44,944.92" fill="none" stroke="#00f" stroke-width="1.9" stroke-linejoin="round"/>
<polygon points="538.90,806.96 541.90,811.56 538.90,816.16 535.90,811.56" fill="none" stroke="#00f" stroke-width="1.9" stroke-linejoin="round"/>
<polygon points="593.41,737.93 596.41,742.53 593.41,747.13 590.41,742.53" fill="none" stroke="#00f" stroke-width="1.9" stroke-linejoin="round"/>
<polygon points="647.98,851.75 650.98,856.35 647.98,860.95 644.98,856.35" fill="none" stroke="#00f" stroke-width="1.9" stroke-linejoin="round"/>
<rect x="616.80" y="731.40" width="51.70" height="38.80" fill="#fff" stroke="#999" stroke-width="1.1"/>
<line x1="619.60" y1="738.77" x2="643.84" y2="738.77" stroke="#000" stroke-width="2.2"/>
<polygon points="631.72,734.37 630.58,736.57 628.29,736.57 629.43,738.77 628.29,740.97 630.58,740.97 631.72,743.17 632.86,740.97 635.15,740.97 634.00,738.77 635.15,736.57 632.86,736.57" fill="#000" stroke="#000" stroke-width="0.6" stroke-linejoin="round"/>
<text class="t" transform="translate(645.75 742.37) scale(0.705 1)" font-size="10" fill="#333333"><tspan font-family="Liberation Serif" font-size="10.5">&#937;</tspan>=0</text>
<line x1="619.60" y1="750.80" x2="643.84" y2="750.80" stroke="#f00" stroke-width="2.2" stroke-dasharray="6.3 1.3 3.6 1.3" stroke-dashoffset="0.6"/>
<ellipse cx="631.72" cy="750.80" rx="2.60" ry="3.00" fill="none" stroke="#f00" stroke-width="1.8"/>
<text class="t" transform="translate(645.75 754.40) scale(0.705 1)" font-size="10" fill="#333333"><tspan font-family="Liberation Serif" font-size="10.5">&#937;</tspan>=0.7</text>
<line x1="619.60" y1="763.02" x2="643.84" y2="763.02" stroke="#00f" stroke-width="2.3" stroke-dasharray="7.3 5.4" stroke-dashoffset="1.6"/>
<polygon points="631.72,758.42 634.72,763.02 631.72,767.62 628.72,763.02" fill="none" stroke="#00f" stroke-width="1.9" stroke-linejoin="round"/>
<text class="t" transform="translate(645.75 766.62) scale(0.705 1)" font-size="10" fill="#333333"><tspan font-family="Liberation Serif" font-size="10.5">&#937;</tspan>=0.8</text>
<g transform="translate(389.3 849.7) rotate(-90)" class="t" fill="#333333"><text text-anchor="middle" font-size="9.5">C</text></g>
<rect x="360" y="1008" width="1.4" height="1.6" fill="#555"/>
</svg></div></body></html>
